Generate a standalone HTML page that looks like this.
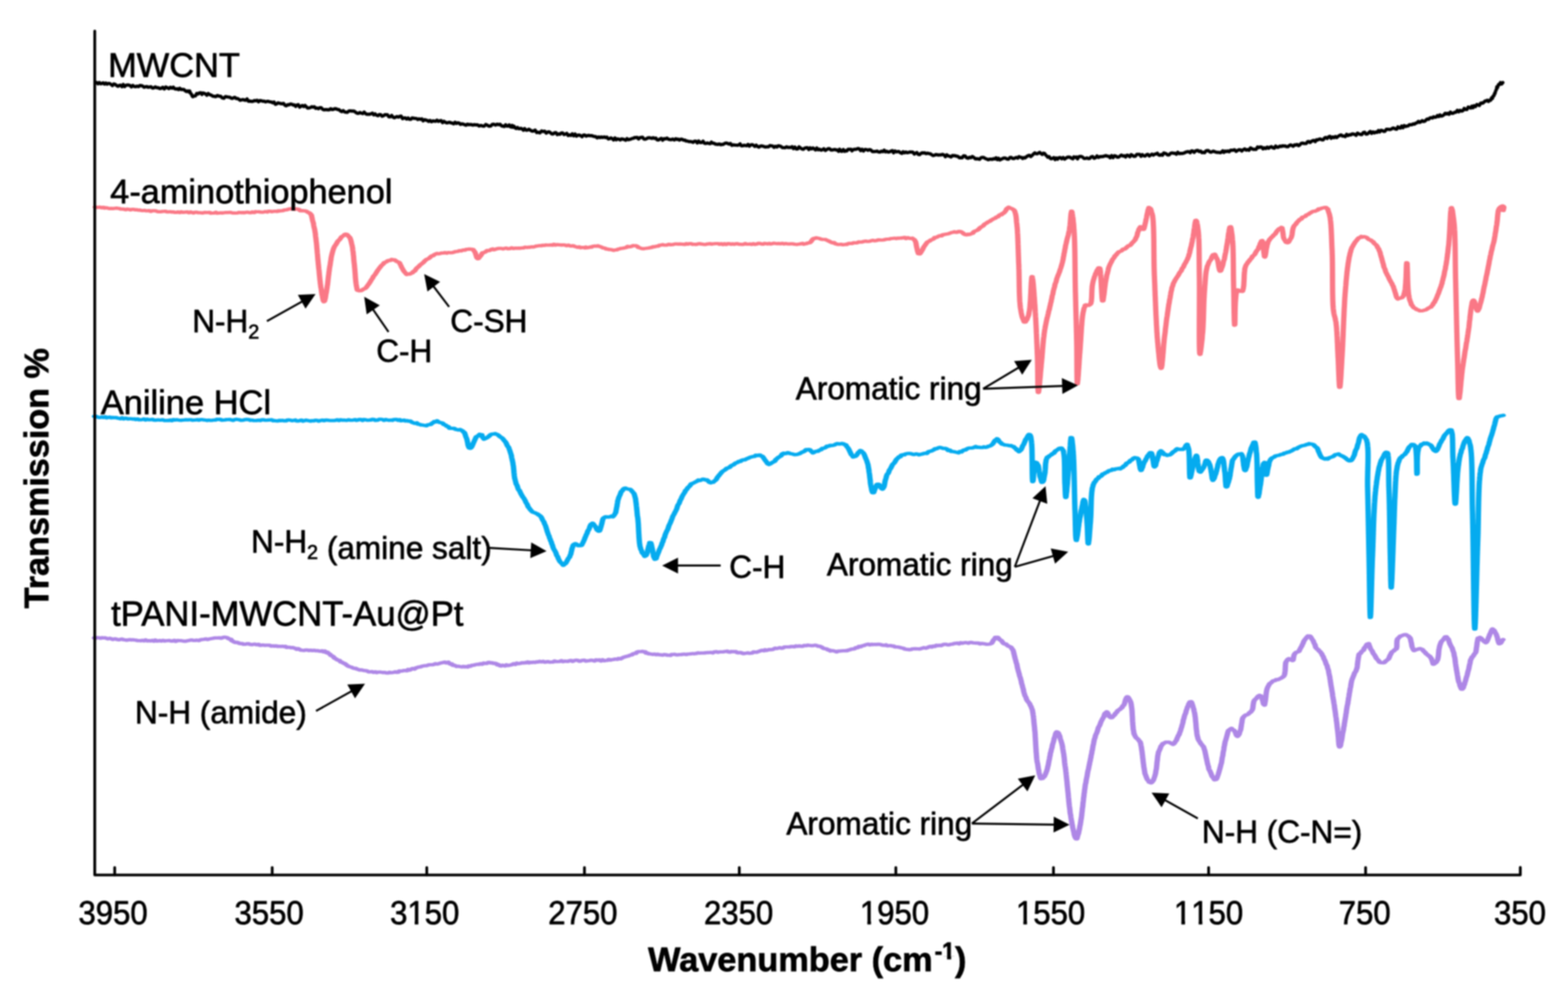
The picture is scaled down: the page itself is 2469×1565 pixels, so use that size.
<!DOCTYPE html>
<html><head><meta charset="utf-8"><title>FTIR spectra</title>
<style>
html,body{margin:0;padding:0;background:#fff;}
body{width:2469px;height:1565px;overflow:hidden;}
svg{display:block;filter:blur(1px);}
text{font-family:"Liberation Sans",Arial,Helvetica,sans-serif;fill:#000;stroke:#000;stroke-width:1px;stroke-linejoin:round;}
</style></head><body>
<svg width="2469" height="1565" viewBox="0 0 2469 1565"><rect width="2469" height="1565" fill="#fff"/><path d="M150.0,130.3 L152.1,129.9 L154.2,131.9 L156.3,129.9 L158.3,131.9 L160.4,131.4 L162.5,130.5 L164.5,132.4 L166.6,130.8 L168.7,132.5 L170.8,131.3 L172.8,131.5 L174.9,133.0 L177.0,134.7 L179.2,132.2 L181.3,132.8 L183.4,134.5 L185.6,135.9 L187.8,134.6 L190.0,134.1 L192.1,136.5 L194.1,133.1 L196.2,136.3 L198.4,134.3 L200.5,133.9 L202.6,133.9 L204.8,134.7 L207.0,136.8 L209.2,134.5 L211.4,136.2 L213.6,136.5 L215.8,135.6 L218.0,136.4 L220.2,134.7 L222.4,134.8 L224.6,135.5 L226.8,137.4 L229.0,136.6 L231.3,136.3 L233.4,137.4 L235.6,137.0 L237.8,136.6 L240.0,138.6 L242.2,138.4 L244.4,136.8 L246.7,138.1 L249.1,138.1 L251.5,139.5 L253.9,139.0 L256.3,137.4 L258.7,140.1 L261.1,137.0 L263.5,138.2 L265.9,139.6 L268.3,137.4 L270.6,138.8 L272.9,137.2 L275.1,139.7 L277.2,140.2 L279.3,139.7 L281.2,141.0 L283.1,139.1 L284.9,140.8 L286.6,140.7 L288.1,141.0 L289.5,140.8 L291.8,143.0 L293.8,144.1 L295.6,143.1 L297.2,144.7 L298.6,143.3 L300.0,146.8 L301.4,148.2 L302.6,151.4 L303.7,152.4 L305.0,151.2 L306.4,151.2 L307.9,151.0 L309.7,147.2 L312.0,147.9 L313.3,146.5 L314.7,146.2 L316.2,146.0 L317.9,148.7 L319.7,146.4 L321.6,147.0 L323.6,147.8 L325.7,149.9 L327.9,147.2 L330.2,149.0 L332.5,149.7 L334.9,151.4 L337.3,151.6 L339.8,152.2 L342.3,150.4 L344.8,151.3 L347.4,151.6 L349.9,154.0 L352.5,154.7 L355.0,152.0 L357.5,152.5 L360.0,153.0 L361.9,153.2 L363.8,154.4 L365.8,155.0 L367.8,154.0 L369.8,153.3 L371.9,155.1 L373.9,155.2 L376.0,156.2 L378.2,157.9 L380.3,157.2 L382.5,156.8 L384.6,157.4 L386.8,157.9 L389.0,155.8 L391.2,159.3 L393.5,159.1 L395.7,159.7 L397.9,159.7 L400.2,158.4 L402.4,158.7 L404.7,157.9 L407.0,160.2 L409.2,158.3 L411.5,158.6 L413.7,159.4 L416.0,159.4 L418.2,160.4 L420.5,159.6 L422.7,159.6 L424.9,160.4 L427.1,160.5 L429.3,161.8 L431.5,160.7 L433.6,164.2 L435.8,163.5 L437.9,161.9 L440.0,162.6 L442.2,163.2 L444.4,163.5 L446.5,162.8 L448.7,165.8 L450.8,166.6 L453.0,164.8 L455.1,165.1 L457.2,163.8 L459.3,164.1 L461.4,165.3 L463.5,165.2 L465.6,167.5 L467.7,165.2 L469.8,164.9 L471.9,168.7 L474.0,167.3 L476.1,166.1 L478.2,167.8 L480.3,166.0 L482.4,168.2 L484.4,170.1 L486.5,169.9 L488.6,169.5 L490.7,168.0 L492.9,168.7 L495.0,168.1 L497.1,170.6 L499.2,170.0 L501.4,171.1 L503.5,169.6 L505.7,169.5 L507.8,171.9 L510.0,172.8 L512.1,172.6 L514.3,172.6 L516.4,172.9 L518.5,172.8 L520.7,171.1 L522.9,172.5 L525.0,172.1 L527.2,171.1 L529.4,171.3 L531.6,172.5 L533.8,172.7 L536.0,174.6 L538.2,175.8 L540.4,174.1 L542.6,176.2 L544.8,176.7 L547.0,176.8 L549.2,174.8 L551.4,174.5 L553.6,174.8 L555.8,174.9 L558.0,175.2 L560.2,177.0 L562.4,178.3 L564.6,178.3 L566.8,177.2 L569.0,178.1 L571.2,178.9 L573.4,176.4 L575.6,178.9 L577.7,180.0 L579.9,179.8 L582.1,179.9 L584.2,179.1 L586.4,178.2 L588.5,180.8 L590.7,179.3 L592.9,181.3 L595.1,182.2 L597.3,180.3 L599.5,180.6 L601.6,182.9 L603.8,182.3 L606.0,180.5 L608.1,180.6 L610.3,180.9 L612.4,184.0 L614.6,183.9 L616.7,181.7 L618.9,184.5 L621.0,185.3 L623.1,184.4 L625.3,183.5 L627.4,184.5 L629.6,183.1 L631.7,182.9 L633.8,186.8 L636.0,185.9 L638.1,185.6 L640.3,187.4 L642.5,185.8 L644.6,187.7 L646.8,187.8 L649.0,185.7 L651.2,186.1 L653.4,186.5 L655.6,186.5 L657.8,188.1 L660.0,187.1 L662.1,187.9 L664.2,187.1 L666.3,190.2 L668.5,188.4 L670.6,189.0 L672.8,189.7 L674.9,191.2 L677.1,189.6 L679.3,191.7 L681.4,190.4 L683.6,190.7 L685.8,190.9 L688.0,189.2 L690.2,191.1 L692.4,190.3 L694.6,189.9 L696.8,193.1 L698.9,191.0 L701.1,192.4 L703.3,193.5 L705.5,193.1 L707.7,192.5 L709.9,193.4 L712.1,193.8 L714.3,194.9 L716.5,192.5 L718.6,194.4 L720.8,193.4 L723.0,193.8 L725.1,195.8 L727.3,195.0 L729.4,195.4 L731.6,196.3 L733.7,197.1 L735.8,195.5 L737.9,196.3 L740.0,196.0 L742.3,196.2 L744.6,197.0 L747.0,196.2 L749.5,196.7 L752.0,196.5 L754.5,198.4 L757.1,197.5 L759.7,198.3 L762.3,198.6 L764.9,196.0 L767.5,197.2 L770.1,198.7 L772.7,198.4 L775.2,195.8 L777.8,195.7 L780.3,197.0 L782.7,195.6 L785.1,196.3 L787.5,195.7 L789.8,198.1 L792.0,198.6 L794.2,199.1 L796.2,196.4 L798.2,198.6 L800.0,198.5 L801.8,196.7 L803.5,199.6 L805.0,200.1 L806.4,197.5 L807.7,200.4 L808.8,198.6 L809.8,199.2 L811.7,201.9 L812.9,202.3 L814.8,200.7 L815.9,202.1 L817.2,202.7 L818.7,202.4 L820.4,202.2 L822.1,203.0 L824.1,204.9 L826.1,202.5 L828.2,204.9 L830.5,204.8 L832.8,203.5 L835.2,205.0 L837.7,206.4 L840.1,206.3 L842.7,204.9 L845.2,208.7 L847.7,208.2 L850.3,209.2 L852.8,206.2 L855.3,207.1 L857.7,206.5 L860.1,209.6 L862.4,207.9 L864.6,207.6 L866.8,208.9 L868.9,211.0 L871.1,210.9 L873.2,209.0 L875.3,208.8 L877.5,211.9 L879.6,210.8 L881.7,211.5 L883.9,209.3 L886.0,209.4 L888.1,211.9 L890.3,211.1 L892.4,210.0 L894.6,213.4 L896.7,212.4 L898.9,213.2 L901.1,210.7 L903.3,213.8 L905.5,211.0 L907.7,214.2 L909.9,212.8 L912.1,212.6 L914.4,213.6 L916.5,215.2 L918.5,212.9 L920.6,212.6 L922.8,214.3 L924.9,213.5 L927.1,213.2 L929.2,213.6 L931.4,213.5 L933.6,214.3 L935.8,215.0 L938.1,215.2 L940.3,217.1 L942.5,215.6 L944.7,216.6 L946.9,215.7 L949.1,216.5 L951.3,215.5 L953.5,216.6 L955.7,215.9 L957.8,218.8 L960.0,218.3 L962.1,217.1 L964.2,218.4 L966.2,220.3 L968.3,217.2 L970.3,220.1 L972.3,218.7 L974.2,219.0 L976.5,220.3 L978.7,218.7 L980.9,219.1 L983.0,219.7 L985.1,220.8 L987.2,218.3 L989.3,220.0 L991.3,219.4 L993.3,219.0 L995.3,218.0 L997.3,217.7 L999.3,216.5 L1001.4,216.6 L1003.4,216.3 L1005.5,218.8 L1007.5,216.8 L1009.7,216.4 L1011.8,216.1 L1014.0,219.0 L1016.1,219.1 L1018.1,218.4 L1020.2,217.0 L1022.2,216.9 L1024.3,217.2 L1026.4,217.9 L1028.5,216.8 L1030.6,218.0 L1032.7,217.4 L1034.8,220.2 L1037.0,220.4 L1039.1,218.9 L1041.3,217.9 L1043.4,220.7 L1045.6,218.4 L1047.9,218.7 L1050.1,217.5 L1052.4,219.1 L1054.6,219.6 L1056.9,219.9 L1059.3,218.9 L1061.6,220.3 L1064.0,218.5 L1065.9,219.6 L1067.9,219.1 L1069.9,220.5 L1072.0,219.2 L1074.0,219.3 L1076.1,220.6 L1078.2,220.5 L1080.4,222.0 L1082.5,222.0 L1084.7,223.0 L1086.9,222.8 L1089.1,223.3 L1091.3,224.1 L1093.5,222.4 L1095.8,222.4 L1098.0,225.1 L1100.2,222.1 L1102.5,224.5 L1104.7,224.4 L1107.0,222.3 L1109.2,225.5 L1111.4,225.9 L1113.6,225.1 L1115.8,225.7 L1118.0,226.2 L1120.2,223.8 L1122.3,225.5 L1124.5,225.6 L1126.6,227.0 L1128.7,227.1 L1130.8,227.3 L1132.8,226.6 L1134.8,227.9 L1136.8,227.3 L1138.7,227.4 L1141.1,225.8 L1143.4,225.2 L1145.7,225.8 L1148.0,226.8 L1150.2,226.0 L1152.4,228.9 L1154.6,228.0 L1156.8,228.4 L1158.9,228.5 L1161.0,228.8 L1163.2,228.2 L1165.3,226.5 L1167.4,229.6 L1169.5,229.5 L1171.6,228.7 L1173.7,229.0 L1175.8,229.5 L1177.9,227.4 L1180.0,230.1 L1182.1,228.3 L1184.2,227.8 L1186.3,228.6 L1188.5,230.5 L1190.7,228.6 L1192.8,230.7 L1195.0,231.7 L1197.2,230.0 L1199.3,229.7 L1201.5,230.2 L1203.7,231.1 L1205.9,231.5 L1208.0,231.0 L1210.2,231.2 L1212.4,229.2 L1214.5,229.5 L1216.7,230.0 L1218.9,232.0 L1221.0,230.4 L1223.2,231.5 L1225.4,229.5 L1227.6,229.8 L1229.7,230.7 L1231.9,232.3 L1234.1,232.5 L1236.2,232.6 L1238.4,231.2 L1240.6,232.2 L1242.8,232.1 L1245.0,232.2 L1247.2,231.0 L1249.4,234.0 L1251.6,231.5 L1253.8,234.6 L1256.0,234.5 L1258.2,231.2 L1260.4,233.0 L1262.6,234.4 L1264.9,235.1 L1267.0,233.3 L1269.2,232.7 L1271.4,232.6 L1273.6,235.5 L1275.7,232.8 L1277.8,234.3 L1280.0,232.8 L1282.1,234.3 L1284.1,236.1 L1286.2,233.1 L1288.2,235.8 L1290.4,234.8 L1292.7,236.4 L1294.9,235.8 L1297.2,234.2 L1299.5,236.9 L1301.7,235.6 L1303.9,234.0 L1306.2,234.1 L1308.3,236.1 L1310.5,236.1 L1312.6,235.7 L1314.6,235.3 L1316.6,236.2 L1318.6,236.2 L1320.4,238.2 L1322.2,235.1 L1324.0,238.0 L1325.6,238.3 L1327.9,235.4 L1330.0,238.3 L1331.8,237.2 L1333.6,237.6 L1335.4,235.1 L1337.5,235.1 L1340.0,235.1 L1341.6,237.4 L1343.3,235.8 L1345.0,235.0 L1346.9,235.2 L1348.9,234.7 L1350.9,233.9 L1353.0,234.2 L1355.2,237.1 L1357.4,235.1 L1359.7,237.7 L1362.0,235.3 L1364.3,235.5 L1366.7,236.6 L1369.0,235.5 L1371.4,236.3 L1373.8,238.7 L1376.2,238.6 L1378.6,238.5 L1380.9,237.9 L1383.3,239.2 L1385.6,239.4 L1387.8,238.1 L1390.0,238.8 L1392.2,236.4 L1394.3,239.1 L1396.4,238.2 L1398.6,239.4 L1400.7,239.1 L1402.8,237.9 L1405.0,237.1 L1407.1,240.6 L1409.2,237.7 L1411.3,239.1 L1413.4,238.7 L1415.6,238.7 L1417.7,240.5 L1419.9,241.5 L1422.0,238.9 L1424.2,240.6 L1426.3,239.3 L1428.5,240.5 L1430.7,240.0 L1432.9,239.3 L1435.2,239.4 L1437.4,239.7 L1439.7,242.5 L1441.7,241.1 L1443.8,240.2 L1445.8,243.0 L1447.9,243.5 L1450.0,241.6 L1452.1,240.6 L1454.1,240.9 L1456.3,240.7 L1458.4,241.9 L1460.5,241.1 L1462.6,241.8 L1464.7,242.1 L1466.9,243.4 L1469.0,244.8 L1471.2,244.5 L1473.4,243.4 L1475.5,243.6 L1477.7,244.2 L1479.9,243.8 L1482.1,243.9 L1484.3,243.0 L1486.5,244.0 L1488.7,246.8 L1490.9,243.8 L1493.1,245.4 L1495.3,246.0 L1497.5,247.1 L1499.8,244.8 L1502.0,245.1 L1504.1,245.2 L1506.3,245.9 L1508.4,246.3 L1510.6,248.4 L1512.9,248.1 L1515.1,248.4 L1517.3,245.3 L1519.6,245.5 L1521.9,248.3 L1524.2,249.2 L1526.5,247.7 L1528.8,248.3 L1531.1,246.3 L1533.4,247.9 L1535.7,250.1 L1538.0,249.9 L1540.2,250.2 L1542.5,250.8 L1544.8,248.2 L1547.1,247.8 L1549.3,248.1 L1551.5,249.6 L1553.7,250.4 L1555.9,251.4 L1558.1,250.7 L1560.2,250.5 L1562.3,251.0 L1564.4,249.9 L1566.4,250.3 L1568.4,248.4 L1570.4,251.3 L1572.3,249.2 L1574.2,251.8 L1576.6,250.7 L1578.9,249.4 L1581.2,248.7 L1583.5,249.1 L1585.8,250.4 L1588.0,250.6 L1590.1,248.2 L1592.3,247.9 L1594.4,249.5 L1596.5,249.6 L1598.5,248.7 L1600.5,247.9 L1602.5,249.1 L1604.5,246.6 L1606.5,247.5 L1608.4,247.9 L1610.3,249.5 L1612.1,248.0 L1614.0,248.7 L1616.3,246.7 L1618.6,245.2 L1620.9,244.5 L1623.1,246.5 L1625.2,244.8 L1627.3,242.5 L1629.4,240.7 L1631.4,241.9 L1633.4,242.1 L1635.3,240.8 L1637.2,240.0 L1639.0,241.6 L1641.1,243.1 L1642.9,241.2 L1644.7,241.5 L1646.4,243.8 L1648.1,245.4 L1649.9,247.5 L1651.9,246.6 L1654.0,249.6 L1655.8,249.8 L1657.6,249.1 L1659.4,248.2 L1661.3,251.2 L1663.3,248.7 L1665.3,250.6 L1667.4,248.3 L1669.5,248.1 L1671.8,250.0 L1674.1,248.1 L1676.4,250.5 L1678.9,248.6 L1681.4,247.4 L1684.0,247.4 L1685.7,248.2 L1687.4,249.1 L1689.2,250.1 L1691.0,247.0 L1692.9,247.9 L1694.8,247.2 L1696.7,250.0 L1698.7,246.8 L1700.8,246.4 L1702.8,246.4 L1704.9,247.6 L1707.1,249.5 L1709.3,249.4 L1711.4,248.7 L1713.7,249.7 L1715.9,249.4 L1718.2,247.0 L1720.4,246.4 L1722.7,249.2 L1725.0,248.4 L1727.3,245.6 L1729.6,247.9 L1732.0,246.7 L1734.3,246.6 L1736.6,246.4 L1738.9,245.7 L1741.3,245.0 L1743.6,245.9 L1745.9,246.1 L1748.1,248.3 L1750.4,245.1 L1752.7,248.2 L1754.9,245.2 L1757.1,245.7 L1759.3,247.4 L1761.5,247.3 L1763.6,245.7 L1765.8,244.2 L1768.0,245.7 L1770.1,245.2 L1772.3,247.2 L1774.5,244.4 L1776.7,244.9 L1779.0,246.8 L1781.2,243.5 L1783.4,244.8 L1785.6,246.2 L1787.8,245.9 L1790.0,243.1 L1792.2,243.0 L1794.4,243.0 L1796.6,246.1 L1798.8,243.5 L1801.0,245.2 L1803.2,245.7 L1805.4,243.5 L1807.5,243.1 L1809.7,245.6 L1811.8,244.2 L1814.0,242.7 L1816.1,244.3 L1818.2,242.7 L1820.3,242.4 L1822.4,241.3 L1824.5,244.0 L1826.5,244.5 L1828.5,243.3 L1830.5,244.4 L1832.5,240.8 L1834.5,241.4 L1836.5,242.2 L1838.4,243.9 L1840.8,243.8 L1843.1,241.5 L1845.5,240.8 L1847.8,241.3 L1850.1,241.3 L1852.4,242.8 L1854.6,239.8 L1856.9,241.9 L1859.1,241.5 L1861.3,241.6 L1863.5,241.2 L1865.6,240.4 L1867.8,239.2 L1869.9,238.9 L1872.0,238.9 L1874.1,240.4 L1876.2,237.5 L1878.2,237.8 L1880.3,239.8 L1882.3,237.8 L1884.3,237.0 L1886.2,236.8 L1888.2,238.7 L1890.4,237.8 L1892.6,240.3 L1894.7,239.9 L1896.8,240.4 L1898.8,237.7 L1900.7,237.1 L1902.7,237.2 L1904.6,238.8 L1906.6,239.7 L1908.6,238.8 L1910.6,238.0 L1912.6,238.8 L1914.8,239.6 L1917.0,239.8 L1919.2,240.0 L1921.6,240.3 L1923.4,239.5 L1925.3,237.4 L1927.2,240.0 L1929.2,237.8 L1931.2,238.6 L1933.3,237.7 L1935.4,238.9 L1937.5,236.7 L1939.7,236.7 L1941.8,236.4 L1944.1,235.9 L1946.3,238.4 L1948.5,237.0 L1950.8,235.8 L1953.0,235.8 L1955.3,237.8 L1957.6,235.7 L1959.9,234.4 L1962.2,236.4 L1964.4,235.5 L1966.7,236.5 L1969.0,232.9 L1971.2,234.1 L1973.5,235.2 L1975.7,235.0 L1977.9,235.1 L1980.1,231.5 L1982.2,232.3 L1984.3,231.4 L1986.4,231.5 L1988.7,234.3 L1990.9,232.7 L1993.1,233.9 L1995.4,231.6 L1997.6,233.4 L1999.8,231.7 L2002.1,230.9 L2004.3,232.7 L2006.5,233.3 L2008.7,230.0 L2010.9,231.8 L2013.0,231.8 L2015.2,230.1 L2017.4,230.6 L2019.5,229.6 L2021.7,229.8 L2023.8,229.8 L2025.9,231.0 L2028.0,231.0 L2030.1,229.1 L2032.2,228.2 L2034.3,229.2 L2036.3,230.3 L2038.4,228.1 L2040.4,228.3 L2042.6,227.5 L2044.7,229.4 L2046.8,228.0 L2048.9,225.7 L2050.9,225.3 L2053.0,225.9 L2055.0,226.0 L2057.0,225.8 L2059.0,223.1 L2061.0,222.8 L2063.0,224.3 L2064.9,222.6 L2066.9,221.6 L2068.9,221.1 L2071.0,223.0 L2073.0,220.0 L2075.0,220.4 L2077.1,219.1 L2079.2,218.9 L2081.3,220.1 L2083.5,220.2 L2085.5,217.4 L2087.6,216.4 L2089.7,218.1 L2091.8,215.7 L2094.0,214.7 L2096.1,217.7 L2098.3,215.6 L2100.5,216.8 L2102.7,215.0 L2104.9,216.5 L2107.1,214.6 L2109.4,213.2 L2111.6,212.4 L2113.8,214.1 L2116.0,214.2 L2118.2,215.0 L2120.4,211.6 L2122.6,213.4 L2124.8,212.2 L2127.0,212.4 L2129.1,210.8 L2131.3,211.1 L2133.4,211.7 L2135.4,213.0 L2137.5,209.6 L2139.8,210.8 L2142.0,211.7 L2144.3,212.0 L2146.6,208.8 L2148.8,208.2 L2151.0,211.1 L2153.2,210.9 L2155.4,208.8 L2157.6,206.9 L2159.8,209.9 L2162.0,207.6 L2164.1,209.3 L2166.2,207.9 L2168.4,208.4 L2170.5,205.6 L2172.5,207.7 L2174.6,205.2 L2176.7,205.6 L2178.7,206.9 L2180.7,206.6 L2182.9,203.7 L2185.0,203.5 L2187.1,203.8 L2189.2,203.9 L2191.2,203.0 L2193.2,201.7 L2195.2,201.8 L2197.2,203.2 L2199.2,203.4 L2201.2,199.8 L2203.2,201.3 L2205.1,201.7 L2207.1,198.5 L2209.1,201.1 L2211.1,197.8 L2213.1,199.2 L2215.1,198.5 L2217.2,198.2 L2219.2,196.4 L2221.2,196.3 L2223.3,196.3 L2225.3,195.1 L2227.3,195.4 L2229.3,193.9 L2231.3,193.3 L2233.4,191.1 L2235.4,192.7 L2237.4,191.6 L2239.4,190.0 L2241.5,191.3 L2243.5,190.8 L2245.5,188.9 L2247.5,187.3 L2249.5,187.8 L2251.5,185.8 L2253.5,185.3 L2255.5,185.8 L2257.4,183.9 L2259.4,184.7 L2261.4,184.3 L2263.4,181.9 L2265.4,183.6 L2267.4,180.9 L2269.5,182.8 L2271.5,182.3 L2273.6,180.7 L2275.7,178.3 L2277.9,179.4 L2279.8,178.4 L2281.8,180.0 L2283.9,176.4 L2286.0,178.5 L2288.1,178.5 L2290.3,176.9 L2292.5,176.7 L2294.7,173.7 L2296.9,176.1 L2299.1,173.7 L2301.3,174.9 L2303.5,174.2 L2305.6,170.7 L2307.7,172.5 L2309.8,172.5 L2311.8,168.6 L2313.8,169.2 L2315.7,170.1 L2317.6,167.3 L2319.3,169.6 L2321.0,166.6 L2323.3,167.9 L2325.4,164.6 L2327.5,165.2 L2329.5,166.1 L2331.4,162.6 L2333.3,162.1 L2335.0,162.3 L2336.8,160.8 L2338.4,159.0 L2340.0,158.8 L2342.0,157.8 L2343.8,159.8 L2345.6,157.9 L2347.2,157.8 L2348.7,153.9 L2350.0,155.1 L2351.1,151.1 L2352.0,151.1 L2352.7,149.9 L2353.3,147.1 L2354.0,147.4 L2354.8,144.2 L2355.5,142.2 L2356.2,141.4 L2357.0,136.5 L2357.9,138.2 L2358.8,135.2 L2359.8,132.8 L2361.0,133.1 L2362.7,130.1 L2364.5,132.2 L2366.4,130.0" fill="none" stroke="#000" stroke-width="5.2" stroke-linejoin="round" stroke-linecap="round"/><g transform="scale(1.6,1)" fill="none" stroke-linejoin="round" stroke-linecap="round"><path d="M93.75,325.9 L95.31,326.7 L96.87,326.4 L98.44,326.1 L100.01,327.2 L101.58,326.3 L103.15,327.7 L104.73,327.0 L106.31,327.8 L107.88,328.5 L109.46,328.1 L111.04,328.4 L112.63,328.0 L114.21,327.7 L115.79,327.9 L117.37,328.3 L118.95,329.2 L120.52,329.1 L122.10,329.4 L123.67,330.2 L125.24,329.2 L126.81,329.5 L128.38,330.4 L129.94,329.6 L131.50,329.7 L133.06,330.4 L134.61,330.2 L136.15,330.8 L137.70,330.7 L139.23,331.5 L140.76,331.6 L142.29,331.2 L143.81,332.0 L145.32,331.9 L146.82,331.5 L148.32,332.9 L149.81,331.9 L151.44,331.9 L153.06,331.9 L154.67,332.9 L156.28,333.4 L157.89,333.4 L159.49,332.9 L161.08,332.8 L162.68,332.5 L164.26,333.6 L165.84,333.6 L167.42,333.3 L168.99,333.9 L170.56,333.6 L172.13,334.5 L173.68,334.3 L175.24,333.6 L176.79,334.7 L178.33,333.4 L179.87,334.3 L181.41,334.1 L182.94,333.9 L184.46,333.7 L185.98,334.9 L187.50,333.7 L189.01,334.7 L190.52,335.3 L192.02,334.1 L193.52,334.2 L195.01,334.9 L196.50,334.8 L198.12,335.1 L199.73,335.4 L201.33,334.4 L202.93,334.6 L204.51,334.7 L206.08,334.3 L207.65,335.7 L209.21,335.5 L210.77,335.4 L212.31,334.3 L213.86,335.7 L215.40,335.5 L216.94,335.1 L218.48,335.5 L220.01,335.0 L221.54,334.7 L223.08,334.5 L224.61,334.6 L226.15,334.3 L227.69,334.8 L229.23,335.4 L230.77,335.3 L232.32,335.5 L233.88,335.2 L235.44,334.4 L236.97,334.8 L238.53,334.6 L240.11,335.1 L241.72,334.6 L243.34,334.1 L244.98,334.6 L246.63,335.0 L248.28,333.7 L249.94,334.7 L251.60,333.2 L253.25,333.5 L254.89,333.3 L256.53,334.0 L258.14,334.2 L259.74,333.8 L261.31,333.0 L262.86,333.8 L264.38,332.7 L265.86,332.5 L267.31,333.4 L268.72,332.8 L270.08,332.7 L271.39,332.5 L272.65,332.9 L273.86,331.9 L275.00,332.3 L276.80,331.8 L278.48,331.6 L280.05,330.5 L281.53,330.5 L282.94,329.9 L284.30,329.1 L285.62,328.6 L286.94,329.1 L288.25,328.2 L289.84,329.7 L291.36,328.9 L292.83,329.2 L294.27,329.9 L295.70,331.9 L297.12,331.6 L298.58,331.8 L300.09,332.0 L301.59,332.6 L303.00,334.2 L304.25,335.0 L305.25,336.2 L305.98,337.8 L306.46,338.4 L306.79,341.2 L307.09,342.9 L307.44,345.9 L307.76,347.8 L308.07,349.9 L308.38,350.7 L308.68,354.2 L308.98,356.7 L309.28,359.2 L309.56,360.3 L309.84,363.1 L310.11,365.6 L310.37,368.3 L310.56,371.7 L310.74,373.8 L310.91,375.8 L311.08,378.4 L311.24,380.5 L311.40,382.4 L311.55,384.6 L311.70,387.2 L311.84,390.8 L311.99,392.6 L312.13,395.4 L312.27,398.2 L312.42,400.1 L312.56,403.1 L312.70,405.8 L312.85,409.0 L313.00,411.0 L313.15,413.4 L313.31,416.8 L313.48,418.6 L313.64,421.8 L313.80,424.0 L313.97,425.6 L314.13,428.8 L314.29,431.5 L314.45,434.6 L314.61,436.5 L314.78,439.6 L314.94,441.8 L315.11,443.8 L315.29,447.2 L315.47,448.3 L315.66,451.7 L315.85,452.8 L316.04,454.6 L316.25,456.9 L316.55,460.6 L316.87,464.0 L317.20,465.4 L317.53,468.9 L317.87,471.4 L318.21,473.8 L318.55,474.1 L318.88,475.1 L319.20,474.4 L319.53,473.8 L319.86,470.9 L320.18,469.6 L320.51,465.7 L320.83,462.6 L321.14,460.5 L321.44,457.4 L321.65,454.8 L321.86,453.5 L322.06,450.4 L322.25,449.2 L322.43,446.7 L322.61,444.4 L322.79,441.7 L322.97,438.8 L323.16,436.3 L323.34,433.8 L323.53,432.1 L323.73,428.4 L323.93,427.3 L324.15,423.5 L324.38,421.5 L324.63,419.0 L324.88,417.4 L325.13,414.2 L325.37,411.4 L325.62,409.6 L325.88,406.0 L326.16,403.9 L326.47,401.5 L326.81,399.5 L327.18,397.2 L327.60,394.9 L328.06,392.4 L328.67,390.0 L329.32,387.6 L330.02,386.6 L330.76,384.4 L331.54,382.6 L332.34,379.9 L333.16,378.7 L334.00,377.6 L335.00,375.5 L336.07,373.0 L337.17,371.8 L338.26,371.0 L339.30,369.0 L340.25,368.5 L341.46,369.1 L342.57,371.0 L343.56,373.0 L344.22,373.6 L344.78,375.7 L345.27,378.2 L345.70,380.9 L346.11,383.9 L346.50,386.2 L346.76,388.5 L347.00,390.4 L347.21,394.0 L347.40,395.9 L347.58,397.4 L347.74,401.3 L347.90,402.5 L348.05,405.5 L348.20,409.1 L348.36,411.4 L348.52,413.9 L348.69,416.0 L348.84,417.9 L348.98,421.1 L349.12,422.8 L349.26,425.6 L349.39,428.6 L349.52,430.7 L349.65,434.0 L349.79,437.3 L349.93,439.7 L350.07,441.8 L350.22,444.3 L350.39,446.2 L350.56,447.7 L350.74,450.2 L350.94,451.3 L351.28,454.5 L351.66,456.8 L352.37,457.3 L353.57,457.8 L355.14,457.7 L356.81,456.2 L358.31,454.7 L359.26,454.3 L360.13,453.2 L360.95,451.5 L361.76,449.6 L362.58,448.0 L363.44,445.9 L364.22,444.1 L365.01,441.9 L365.82,439.8 L366.63,438.2 L367.45,435.3 L368.28,433.7 L369.12,432.2 L369.96,430.1 L370.81,428.1 L371.70,425.6 L372.58,423.9 L373.47,422.0 L374.37,420.3 L375.28,418.2 L376.22,416.9 L377.18,415.8 L378.19,413.3 L379.35,412.8 L380.57,411.9 L381.82,410.3 L383.09,409.8 L384.34,410.1 L385.56,408.4 L386.95,409.3 L388.35,409.1 L389.73,410.8 L391.03,412.1 L392.19,412.6 L393.10,413.5 L393.89,416.2 L394.59,418.3 L395.25,420.8 L395.92,422.6 L396.62,424.6 L397.51,427.1 L398.38,428.7 L399.29,430.3 L400.31,432.2 L401.70,431.3 L403.21,431.6 L404.75,430.1 L405.82,429.7 L406.91,427.3 L408.01,427.0 L409.13,424.2 L410.25,421.9 L411.38,420.5 L412.41,419.2 L413.46,417.0 L414.52,416.1 L415.59,414.5 L416.65,413.4 L417.71,411.3 L418.75,409.8 L420.02,408.2 L421.28,407.5 L422.53,406.4 L423.77,404.4 L425.00,402.8 L426.22,402.6 L427.38,401.0 L428.63,399.9 L430.12,399.0 L431.20,399.7 L432.40,399.4 L433.69,398.8 L435.06,398.3 L436.50,398.3 L437.99,397.6 L439.52,398.6 L441.07,397.5 L442.62,397.8 L444.17,397.8 L445.69,397.6 L447.18,396.7 L448.77,396.0 L450.43,395.8 L452.14,394.6 L453.87,395.1 L455.59,393.7 L457.29,393.9 L458.94,392.6 L460.52,392.4 L461.99,392.1 L463.34,392.4 L464.54,392.4 L465.56,392.7 L466.61,395.3 L467.41,396.8 L468.03,399.4 L468.54,402.1 L469.02,404.7 L469.55,406.4 L470.19,407.4 L471.04,406.9 L471.90,404.7 L472.79,403.3 L473.77,400.9 L474.87,397.8 L475.94,397.9 L477.05,397.1 L478.24,396.0 L479.54,394.3 L481.01,394.7 L482.69,393.7 L483.75,392.4 L484.90,392.0 L486.15,393.3 L487.47,392.5 L488.87,391.7 L490.33,391.2 L491.86,391.1 L493.43,391.1 L495.05,391.8 L496.71,391.0 L498.40,390.6 L500.11,391.7 L501.84,391.4 L503.57,390.2 L505.31,391.3 L507.05,390.7 L508.77,390.9 L510.47,390.6 L512.14,390.8 L513.78,390.4 L515.38,390.3 L516.92,389.1 L518.47,389.7 L520.03,389.2 L521.60,389.3 L523.17,388.5 L524.75,389.0 L526.33,388.2 L527.92,387.4 L529.50,387.1 L531.08,386.7 L532.67,387.0 L534.24,386.0 L535.82,386.4 L537.39,385.7 L538.95,386.0 L540.51,385.8 L542.06,385.7 L543.60,386.1 L545.12,384.6 L546.64,385.9 L548.14,385.2 L549.62,385.4 L551.19,385.6 L552.77,386.0 L554.37,385.5 L555.98,385.8 L557.60,386.9 L559.21,385.8 L560.82,387.1 L562.42,387.4 L564.00,386.8 L565.56,388.1 L567.09,388.6 L568.58,389.3 L570.04,388.7 L571.46,390.0 L572.82,389.5 L574.14,389.6 L575.39,390.4 L576.57,389.1 L577.69,390.1 L579.26,389.8 L580.65,388.9 L581.91,389.2 L583.12,387.9 L584.32,387.6 L585.59,387.4 L587.00,387.7 L588.26,387.0 L589.56,387.8 L590.89,388.4 L592.26,389.3 L593.66,390.5 L595.08,390.5 L596.54,392.1 L598.01,392.1 L599.51,392.9 L601.03,392.9 L602.56,393.5 L603.93,394.2 L605.37,393.5 L606.86,393.4 L608.40,392.2 L609.96,391.7 L611.55,391.0 L613.13,390.8 L614.71,390.2 L616.27,389.8 L617.79,388.0 L619.26,388.6 L620.66,388.4 L621.99,387.5 L623.24,386.6 L624.38,387.0 L625.86,386.9 L627.12,387.8 L628.26,389.8 L629.41,390.1 L630.68,390.9 L632.19,391.5 L633.29,391.7 L634.48,391.2 L635.74,391.0 L637.06,390.7 L638.44,390.5 L639.87,389.9 L641.35,389.6 L642.86,388.4 L644.41,388.6 L645.98,387.7 L647.57,387.7 L649.18,386.1 L650.78,385.8 L652.39,385.2 L653.98,386.0 L655.56,386.0 L657.01,385.4 L658.47,384.7 L659.95,385.3 L661.44,385.2 L662.94,384.7 L664.45,384.1 L665.98,384.2 L667.51,384.3 L669.06,384.1 L670.62,384.3 L672.19,384.6 L673.77,385.0 L675.35,383.6 L676.95,384.5 L678.55,383.6 L680.17,383.7 L681.79,384.8 L683.41,384.5 L685.05,385.0 L686.69,384.2 L688.16,383.5 L689.65,384.1 L691.16,384.4 L692.67,384.9 L694.20,385.0 L695.73,384.2 L697.27,384.1 L698.83,383.6 L700.38,384.5 L701.95,383.8 L703.52,383.7 L705.09,383.5 L706.67,383.5 L708.26,384.6 L709.84,383.7 L711.43,385.1 L713.01,383.7 L714.60,384.9 L716.18,383.7 L717.77,383.6 L719.35,384.7 L720.92,383.9 L722.50,384.7 L724.06,383.8 L725.62,383.6 L727.19,384.7 L728.75,384.6 L730.33,384.8 L731.90,384.6 L733.48,383.5 L735.07,384.4 L736.65,384.5 L738.24,384.1 L739.82,384.8 L741.41,383.7 L742.99,384.8 L744.58,384.3 L746.16,383.2 L747.73,383.2 L749.30,384.1 L750.87,384.4 L752.43,383.2 L753.98,383.5 L755.52,384.1 L757.05,383.2 L758.58,384.2 L760.09,383.6 L761.60,382.9 L763.09,383.3 L764.56,383.6 L766.23,383.4 L767.93,383.8 L769.66,383.0 L771.41,384.1 L773.17,383.4 L774.94,384.0 L776.70,384.1 L778.46,383.8 L780.19,383.8 L781.90,384.5 L783.57,384.8 L785.19,384.6 L786.77,384.2 L788.29,383.7 L789.74,383.2 L791.11,384.5 L792.40,383.8 L793.60,383.7 L794.70,382.5 L795.69,382.5 L797.06,382.0 L798.14,380.3 L799.04,378.4 L799.90,376.5 L800.82,375.4 L801.94,375.4 L803.25,374.4 L804.66,375.0 L806.15,375.3 L807.70,376.4 L809.28,377.0 L810.89,377.0 L812.50,377.2 L813.81,378.2 L815.14,379.2 L816.48,380.2 L817.83,381.4 L819.21,382.3 L820.61,381.8 L822.03,383.8 L823.49,384.4 L824.97,385.0 L826.50,384.8 L827.80,384.5 L829.11,385.4 L830.42,385.2 L831.75,384.9 L833.09,385.0 L834.46,383.8 L835.85,383.0 L837.27,383.4 L838.73,383.3 L840.24,382.0 L841.78,382.4 L843.38,382.3 L845.04,380.9 L846.75,381.2 L848.03,381.1 L849.39,380.5 L850.83,379.9 L852.35,379.7 L853.92,380.2 L855.55,380.0 L857.23,379.2 L858.95,378.3 L860.71,379.1 L862.50,378.7 L864.30,377.6 L866.13,377.8 L867.96,378.0 L869.79,377.7 L871.61,376.8 L873.42,376.5 L875.21,376.4 L876.97,375.5 L878.70,375.3 L880.38,375.0 L882.02,375.6 L883.61,374.9 L885.13,375.1 L886.58,374.7 L887.95,374.8 L889.24,374.1 L890.44,373.9 L891.55,375.5 L892.55,374.5 L893.44,374.2 L895.11,375.2 L896.49,375.6 L897.65,374.9 L898.69,376.2 L899.69,377.0 L900.38,378.7 L900.96,380.2 L901.46,382.9 L901.89,387.4 L902.27,390.2 L902.64,392.6 L903.01,395.4 L903.40,397.2 L903.85,399.5 L904.38,399.6 L905.22,399.8 L906.10,397.7 L907.03,395.3 L907.99,392.8 L909.00,389.3 L909.77,387.4 L910.49,386.0 L911.23,384.3 L912.02,382.5 L912.92,380.8 L913.98,380.1 L915.25,379.1 L916.23,377.5 L917.36,377.3 L918.62,376.3 L920.00,373.9 L921.47,373.8 L923.02,372.5 L924.64,371.1 L926.31,371.5 L928.01,369.5 L929.73,369.1 L931.45,368.5 L933.15,368.2 L934.82,367.1 L936.45,366.1 L938.01,365.7 L939.50,364.8 L940.89,365.8 L942.16,365.7 L943.31,364.4 L944.88,364.3 L946.26,365.4 L947.52,366.6 L948.72,368.5 L949.93,369.4 L951.21,369.8 L952.62,368.6 L953.71,369.4 L954.84,368.7 L956.02,367.8 L957.24,367.3 L958.48,364.7 L959.76,363.6 L961.05,363.1 L962.35,362.0 L963.66,360.0 L964.97,357.9 L966.28,356.8 L967.57,355.6 L968.85,353.1 L970.09,352.1 L971.31,350.7 L972.62,349.2 L973.96,348.5 L975.33,346.8 L976.69,345.6 L978.06,344.2 L979.41,343.8 L980.74,341.5 L982.03,341.4 L983.26,339.3 L984.44,337.9 L985.55,338.2 L986.57,335.9 L987.50,335.9 L988.78,333.8 L989.84,331.7 L990.78,328.5 L991.72,327.5 L992.75,326.2 L994.09,327.6 L995.52,328.3 L996.87,329.4 L998.00,330.9 L998.58,332.2 L999.03,334.8 L999.39,336.2 L999.66,338.7 L999.88,340.3 L1000.07,343.0 L1000.24,345.5 L1000.42,349.4 L1000.62,352.1 L1000.76,353.2 L1000.88,356.3 L1001.00,357.3 L1001.10,359.6 L1001.20,361.3 L1001.29,363.7 L1001.38,366.9 L1001.46,368.4 L1001.54,370.5 L1001.61,373.5 L1001.68,375.7 L1001.74,379.1 L1001.80,380.4 L1001.86,384.4 L1001.92,385.5 L1001.97,389.4 L1002.02,391.7 L1002.08,393.6 L1002.13,396.7 L1002.19,399.0 L1002.24,401.6 L1002.30,404.1 L1002.36,407.0 L1002.43,410.6 L1002.49,413.2 L1002.56,415.6 L1002.63,416.6 L1002.68,419.4 L1002.73,422.9 L1002.78,424.1 L1002.82,427.7 L1002.85,429.7 L1002.88,433.4 L1002.91,434.6 L1002.94,438.5 L1002.97,440.5 L1002.99,442.9 L1003.02,445.4 L1003.05,449.4 L1003.08,451.7 L1003.11,453.8 L1003.15,456.9 L1003.19,460.2 L1003.24,461.7 L1003.30,464.8 L1003.36,466.7 L1003.43,469.2 L1003.51,472.5 L1003.60,474.7 L1003.70,476.2 L1003.81,478.2 L1003.93,480.3 L1004.07,483.1 L1004.22,484.8 L1004.38,486.2 L1004.56,487.8 L1004.95,491.7 L1005.39,495.2 L1005.86,498.5 L1006.36,501.0 L1006.88,502.9 L1007.41,504.7 L1007.96,507.1 L1008.50,507.1 L1009.14,507.1 L1009.83,504.6 L1010.53,503.7 L1011.22,500.3 L1011.86,498.2 L1012.44,495.2 L1012.70,492.9 L1012.93,490.1 L1013.15,489.2 L1013.35,486.0 L1013.54,483.8 L1013.71,479.9 L1013.86,476.7 L1014.00,474.5 L1014.14,470.5 L1014.26,466.8 L1014.37,463.8 L1014.48,460.8 L1014.58,456.6 L1014.67,454.3 L1014.76,451.2 L1014.85,448.4 L1014.95,445.2 L1015.04,443.7 L1015.13,441.7 L1015.23,440.0 L1015.33,437.6 L1015.44,437.2 L1015.56,435.9 L1015.69,436.3 L1015.85,435.5 L1016.01,437.5 L1016.17,438.8 L1016.33,439.7 L1016.49,441.7 L1016.65,444.0 L1016.81,446.5 L1016.97,448.5 L1017.13,453.0 L1017.28,454.9 L1017.44,458.1 L1017.59,461.2 L1017.74,464.8 L1017.89,469.0 L1018.03,470.9 L1018.17,474.2 L1018.31,478.1 L1018.41,479.4 L1018.50,481.2 L1018.60,484.4 L1018.69,486.6 L1018.78,488.8 L1018.87,491.4 L1018.96,492.8 L1019.05,496.5 L1019.14,498.7 L1019.23,500.1 L1019.31,502.8 L1019.40,505.9 L1019.48,508.5 L1019.56,510.8 L1019.65,513.1 L1019.73,516.2 L1019.81,518.4 L1019.88,521.8 L1019.96,524.9 L1020.04,526.4 L1020.11,529.7 L1020.18,532.6 L1020.25,534.3 L1020.32,537.9 L1020.39,540.7 L1020.46,542.3 L1020.52,544.9 L1020.59,548.1 L1020.65,550.0 L1020.71,552.3 L1020.77,555.5 L1020.83,557.6 L1020.88,559.2 L1020.94,561.3 L1021.00,564.2 L1021.05,567.2 L1021.09,571.1 L1021.13,574.0 L1021.17,577.3 L1021.20,580.4 L1021.22,583.7 L1021.24,585.6 L1021.27,589.6 L1021.29,593.4 L1021.31,596.5 L1021.33,598.3 L1021.35,601.5 L1021.38,604.5 L1021.41,606.6 L1021.44,609.1 L1021.48,610.5 L1021.52,612.9 L1021.58,614.6 L1021.64,615.0 L1021.71,616.1 L1021.79,618.0 L1021.88,617.9 L1021.98,618.0 L1022.10,616.8 L1022.23,616.0 L1022.37,614.6 L1022.52,612.8 L1022.67,609.3 L1022.83,607.9 L1022.99,604.6 L1023.16,602.5 L1023.33,598.9 L1023.51,596.2 L1023.68,593.7 L1023.86,590.0 L1024.03,586.3 L1024.21,583.6 L1024.38,580.4 L1024.55,578.3 L1024.71,574.4 L1024.88,571.9 L1025.02,570.1 L1025.16,566.9 L1025.29,565.3 L1025.42,563.5 L1025.55,560.4 L1025.68,557.6 L1025.80,555.4 L1025.92,553.1 L1026.05,550.0 L1026.18,547.5 L1026.31,545.1 L1026.44,542.9 L1026.57,540.6 L1026.71,538.0 L1026.86,535.5 L1027.01,532.9 L1027.18,531.3 L1027.35,529.4 L1027.52,526.7 L1027.71,524.4 L1027.91,522.2 L1028.12,519.3 L1028.39,517.6 L1028.67,514.7 L1028.97,512.4 L1029.27,510.0 L1029.59,507.4 L1029.92,504.8 L1030.26,502.3 L1030.60,500.0 L1030.95,498.1 L1031.30,495.6 L1031.65,493.6 L1032.00,490.4 L1032.35,488.7 L1032.70,487.2 L1033.04,483.9 L1033.38,482.1 L1033.72,479.6 L1034.05,476.8 L1034.39,475.5 L1034.72,472.0 L1035.05,470.4 L1035.38,467.0 L1035.72,464.5 L1036.06,463.4 L1036.40,460.3 L1036.75,457.3 L1037.10,455.5 L1037.47,453.2 L1037.84,451.4 L1038.23,448.1 L1038.62,446.0 L1039.05,444.8 L1039.51,442.2 L1039.98,439.0 L1040.46,437.0 L1040.96,434.8 L1041.47,433.0 L1041.97,430.7 L1042.48,428.9 L1042.97,426.6 L1043.46,423.9 L1043.92,422.0 L1044.37,419.8 L1044.79,417.6 L1045.19,414.9 L1045.57,412.9 L1045.93,410.4 L1046.27,408.2 L1046.58,404.4 L1046.88,403.1 L1047.17,399.2 L1047.45,398.0 L1047.72,395.2 L1047.99,392.6 L1048.27,391.0 L1048.54,388.0 L1048.83,385.5 L1049.12,383.9 L1049.49,381.5 L1049.87,378.7 L1050.25,376.0 L1050.64,373.9 L1051.01,371.7 L1051.38,369.9 L1051.73,366.9 L1052.07,364.7 L1052.37,362.5 L1052.62,359.8 L1052.84,356.9 L1053.05,354.5 L1053.24,351.4 L1053.42,347.6 L1053.60,344.3 L1053.76,340.9 L1053.93,338.4 L1054.09,335.9 L1054.26,334.8 L1054.44,333.6 L1054.62,332.4 L1054.82,334.1 L1055.03,334.1 L1055.24,336.5 L1055.45,338.4 L1055.67,341.0 L1055.88,342.6 L1056.09,345.9 L1056.29,349.9 L1056.49,351.7 L1056.67,355.1 L1056.84,359.3 L1057.00,362.4 L1057.08,364.9 L1057.16,366.5 L1057.23,368.1 L1057.30,370.9 L1057.36,372.2 L1057.42,374.4 L1057.47,376.9 L1057.52,378.7 L1057.57,380.9 L1057.61,383.7 L1057.65,385.7 L1057.69,389.1 L1057.72,391.2 L1057.76,393.5 L1057.79,395.4 L1057.81,398.4 L1057.84,401.1 L1057.86,404.0 L1057.89,406.7 L1057.91,409.9 L1057.93,412.7 L1057.95,414.7 L1057.97,417.3 L1057.98,420.3 L1058.00,423.6 L1058.02,425.3 L1058.04,428.3 L1058.06,431.5 L1058.08,433.1 L1058.10,436.1 L1058.12,439.8 L1058.14,442.2 L1058.16,444.3 L1058.19,446.2 L1058.22,450.0 L1058.25,452.2 L1058.28,454.9 L1058.31,457.6 L1058.35,460.0 L1058.39,461.8 L1058.43,463.9 L1058.47,466.6 L1058.51,469.5 L1058.55,472.1 L1058.59,474.1 L1058.63,476.7 L1058.67,479.9 L1058.71,482.4 L1058.75,484.5 L1058.80,488.1 L1058.84,490.0 L1058.88,491.6 L1058.92,494.7 L1058.96,497.8 L1059.00,499.6 L1059.04,502.7 L1059.09,504.1 L1059.13,507.0 L1059.17,510.3 L1059.21,512.4 L1059.24,515.0 L1059.28,516.7 L1059.32,519.6 L1059.36,522.1 L1059.39,524.0 L1059.43,527.0 L1059.47,529.2 L1059.50,532.3 L1059.53,534.0 L1059.56,536.0 L1059.60,537.9 L1059.62,540.3 L1059.66,543.9 L1059.68,545.6 L1059.70,548.5 L1059.72,551.7 L1059.74,555.3 L1059.75,559.0 L1059.77,561.8 L1059.78,565.4 L1059.78,567.4 L1059.79,570.5 L1059.80,574.9 L1059.81,577.2 L1059.82,580.9 L1059.83,583.2 L1059.84,585.7 L1059.86,588.5 L1059.88,590.8 L1059.90,594.4 L1059.93,596.0 L1059.96,597.5 L1059.99,599.4 L1060.03,600.7 L1060.07,601.3 L1060.13,603.4 L1060.18,603.5 L1060.25,604.2 L1060.33,603.2 L1060.42,602.8 L1060.52,601.2 L1060.62,599.4 L1060.73,599.1 L1060.84,596.9 L1060.96,593.7 L1061.09,592.0 L1061.22,589.1 L1061.35,585.4 L1061.48,582.7 L1061.62,580.1 L1061.76,576.1 L1061.90,573.5 L1062.04,569.1 L1062.18,566.0 L1062.32,563.3 L1062.46,559.3 L1062.60,556.5 L1062.74,554.5 L1062.87,551.2 L1063.00,549.3 L1063.11,545.9 L1063.22,543.3 L1063.33,541.0 L1063.44,538.0 L1063.55,536.6 L1063.66,532.7 L1063.76,530.4 L1063.87,526.9 L1063.98,524.8 L1064.09,521.8 L1064.20,519.1 L1064.31,515.9 L1064.43,513.3 L1064.56,511.8 L1064.69,508.5 L1064.82,505.8 L1064.96,503.4 L1065.11,501.2 L1065.27,499.0 L1065.43,496.6 L1065.61,495.6 L1065.79,493.3 L1065.98,491.3 L1066.19,490.7 L1066.62,486.9 L1067.04,484.6 L1067.51,483.3 L1068.08,480.5 L1068.81,479.8 L1070.06,480.3 L1071.50,480.8 L1072.75,479.4 L1073.21,478.7 L1073.57,477.8 L1073.85,475.4 L1074.06,474.2 L1074.22,470.5 L1074.34,469.0 L1074.42,465.5 L1074.49,462.1 L1074.56,459.5 L1074.64,456.0 L1074.74,454.1 L1074.87,450.7 L1075.06,449.2 L1075.31,446.5 L1075.72,443.5 L1076.17,440.6 L1076.65,438.6 L1077.15,435.4 L1077.67,434.1 L1078.20,430.7 L1078.73,429.3 L1079.25,427.6 L1079.91,424.9 L1080.60,423.6 L1081.27,421.5 L1081.88,421.5 L1082.13,421.7 L1082.37,422.3 L1082.59,423.9 L1082.78,425.4 L1082.97,427.9 L1083.13,431.7 L1083.29,433.8 L1083.43,437.5 L1083.56,440.0 L1083.69,444.2 L1083.81,447.5 L1083.92,451.2 L1084.03,454.4 L1084.14,457.3 L1084.25,460.9 L1084.37,463.7 L1084.48,466.2 L1084.61,469.4 L1084.74,470.6 L1084.88,472.2 L1085.03,473.9 L1085.19,474.0 L1085.40,473.9 L1085.61,472.9 L1085.82,470.2 L1086.03,468.4 L1086.25,465.6 L1086.46,463.9 L1086.68,460.9 L1086.91,457.3 L1087.14,454.2 L1087.38,451.4 L1087.63,448.4 L1087.89,444.7 L1088.16,443.0 L1088.44,439.9 L1088.77,437.8 L1089.09,434.6 L1089.41,432.1 L1089.74,431.0 L1090.09,428.4 L1090.46,426.1 L1090.87,422.8 L1091.31,420.6 L1091.81,418.6 L1092.38,416.5 L1093.06,414.3 L1093.84,412.1 L1094.68,409.1 L1095.57,407.2 L1096.49,405.4 L1097.41,402.5 L1098.31,401.7 L1099.18,399.6 L1100.00,398.4 L1101.18,396.3 L1102.33,395.8 L1103.69,395.0 L1104.58,393.5 L1105.61,392.0 L1106.75,392.2 L1107.97,390.8 L1109.24,388.7 L1110.53,386.9 L1111.80,386.8 L1113.04,384.8 L1114.20,382.3 L1115.26,381.0 L1116.19,379.1 L1117.06,378.0 L1117.84,374.6 L1118.53,372.9 L1119.16,369.7 L1119.73,365.7 L1120.27,364.0 L1120.79,361.1 L1121.30,359.7 L1121.83,358.4 L1122.37,356.9 L1123.30,357.6 L1124.20,361.0 L1125.00,361.2 L1125.54,361.1 L1125.98,358.9 L1126.37,356.5 L1126.76,353.9 L1127.19,350.9 L1127.54,348.4 L1127.91,345.1 L1128.28,343.1 L1128.66,339.5 L1129.05,336.5 L1129.44,334.2 L1129.84,330.3 L1130.24,329.2 L1130.65,326.6 L1131.06,327.1 L1131.63,327.8 L1132.22,328.3 L1132.81,330.9 L1133.38,334.3 L1133.88,336.7 L1134.05,337.8 L1134.20,338.7 L1134.35,339.9 L1134.49,342.0 L1134.61,343.8 L1134.72,345.3 L1134.83,347.4 L1134.92,349.2 L1135.01,352.2 L1135.08,354.4 L1135.15,356.0 L1135.21,358.4 L1135.27,361.3 L1135.32,363.7 L1135.36,367.0 L1135.40,368.7 L1135.43,371.3 L1135.46,375.0 L1135.49,376.6 L1135.51,380.1 L1135.53,382.5 L1135.55,386.2 L1135.57,388.6 L1135.58,391.9 L1135.60,393.9 L1135.61,397.6 L1135.63,400.4 L1135.65,403.1 L1135.66,406.6 L1135.69,409.6 L1135.71,411.3 L1135.74,414.5 L1135.77,417.4 L1135.80,420.0 L1135.84,422.6 L1135.89,425.6 L1135.94,428.2 L1136.00,431.6 L1136.06,433.8 L1136.13,435.7 L1136.19,438.5 L1136.26,441.2 L1136.32,443.6 L1136.38,445.8 L1136.45,448.2 L1136.51,450.7 L1136.58,454.9 L1136.64,457.1 L1136.71,458.7 L1136.77,462.3 L1136.84,465.4 L1136.91,467.4 L1136.97,469.3 L1137.04,472.6 L1137.11,475.2 L1137.18,477.4 L1137.24,480.7 L1137.31,482.5 L1137.39,486.6 L1137.46,488.8 L1137.53,491.4 L1137.60,494.5 L1137.68,496.6 L1137.75,498.6 L1137.83,501.1 L1137.91,503.5 L1137.99,505.8 L1138.07,509.5 L1138.15,512.1 L1138.24,513.6 L1138.32,515.9 L1138.41,518.9 L1138.50,521.6 L1138.59,524.0 L1138.68,525.1 L1138.77,528.2 L1138.87,530.5 L1138.97,532.5 L1139.06,533.8 L1139.17,535.6 L1139.27,538.6 L1139.38,539.7 L1139.55,542.8 L1139.72,546.2 L1139.91,549.0 L1140.09,553.0 L1140.29,555.2 L1140.48,558.0 L1140.68,562.0 L1140.89,565.0 L1141.09,568.1 L1141.30,570.5 L1141.50,573.2 L1141.71,575.4 L1141.91,576.5 L1142.11,578.0 L1142.31,578.5 L1142.50,579.4 L1142.69,580.1 L1142.86,579.1 L1143.03,579.4 L1143.20,577.4 L1143.36,576.4 L1143.52,575.5 L1143.68,571.9 L1143.84,569.5 L1143.99,567.5 L1144.15,564.3 L1144.31,562.2 L1144.47,557.9 L1144.63,556.1 L1144.79,552.9 L1144.95,549.5 L1145.12,545.7 L1145.28,542.3 L1145.46,539.8 L1145.63,536.6 L1145.81,533.7 L1146.00,530.9 L1146.18,528.7 L1146.36,526.7 L1146.54,524.5 L1146.73,522.1 L1146.91,518.5 L1147.10,516.2 L1147.29,513.9 L1147.48,511.6 L1147.67,508.7 L1147.87,505.9 L1148.07,503.3 L1148.27,501.1 L1148.47,498.9 L1148.68,497.2 L1148.89,494.7 L1149.10,492.2 L1149.31,490.0 L1149.53,487.7 L1149.75,484.8 L1149.98,482.9 L1150.21,479.5 L1150.44,478.4 L1150.72,475.7 L1150.99,472.7 L1151.25,470.7 L1151.52,468.8 L1151.78,465.7 L1152.05,463.6 L1152.33,460.7 L1152.63,458.5 L1152.94,457.1 L1153.27,453.6 L1153.62,451.8 L1154.01,450.5 L1154.42,448.1 L1154.88,445.6 L1155.49,444.3 L1156.16,441.8 L1156.87,440.1 L1157.62,438.0 L1158.39,436.3 L1159.17,434.5 L1159.96,432.4 L1160.74,430.0 L1161.50,428.1 L1162.21,427.2 L1162.96,424.6 L1163.74,421.8 L1164.52,420.8 L1165.31,417.6 L1166.08,415.2 L1166.82,413.7 L1167.52,411.1 L1168.17,409.4 L1168.75,407.6 L1169.25,405.2 L1169.77,403.5 L1170.18,400.7 L1170.51,399.4 L1170.81,397.6 L1171.11,394.8 L1171.44,393.1 L1171.75,390.4 L1172.07,388.8 L1172.39,387.2 L1172.70,384.3 L1173.02,382.1 L1173.33,379.8 L1173.64,376.2 L1173.95,375.2 L1174.25,372.3 L1174.51,368.9 L1174.77,367.4 L1175.02,363.8 L1175.27,360.5 L1175.52,358.8 L1175.77,355.3 L1176.01,353.1 L1176.26,349.9 L1176.51,349.2 L1176.75,346.9 L1177.00,346.8 L1177.32,347.5 L1177.66,348.3 L1178.00,351.3 L1178.33,353.3 L1178.64,356.5 L1178.93,360.3 L1179.19,363.0 L1179.30,365.3 L1179.41,366.6 L1179.50,368.8 L1179.59,370.2 L1179.66,372.7 L1179.73,374.7 L1179.80,375.7 L1179.85,378.8 L1179.90,380.4 L1179.94,383.4 L1179.98,385.7 L1180.01,388.3 L1180.04,389.7 L1180.07,392.6 L1180.09,395.8 L1180.11,398.7 L1180.12,401.0 L1180.14,402.6 L1180.15,406.2 L1180.16,408.1 L1180.17,411.6 L1180.19,414.8 L1180.20,416.5 L1180.21,420.6 L1180.23,423.0 L1180.24,425.1 L1180.26,427.8 L1180.29,431.0 L1180.31,434.4 L1180.33,436.2 L1180.35,437.8 L1180.36,440.1 L1180.38,442.7 L1180.38,446.5 L1180.39,448.2 L1180.40,451.6 L1180.40,454.1 L1180.40,457.7 L1180.40,460.2 L1180.39,462.9 L1180.39,467.2 L1180.38,469.8 L1180.38,473.3 L1180.37,476.7 L1180.36,480.2 L1180.35,482.0 L1180.35,485.8 L1180.34,488.8 L1180.33,492.7 L1180.32,496.6 L1180.31,499.8 L1180.30,501.8 L1180.29,505.3 L1180.29,509.5 L1180.28,512.4 L1180.28,515.1 L1180.27,518.2 L1180.27,520.7 L1180.27,524.7 L1180.27,526.8 L1180.28,530.4 L1180.28,532.6 L1180.29,534.3 L1180.30,537.2 L1180.31,539.4 L1180.33,542.7 L1180.35,544.3 L1180.37,545.4 L1180.40,547.5 L1180.43,549.5 L1180.46,551.2 L1180.50,552.8 L1180.54,553.7 L1180.58,554.7 L1180.63,555.1 L1180.68,556.7 L1180.74,556.8 L1180.81,556.6 L1180.88,557.4 L1181.01,558.0 L1181.17,555.7 L1181.34,554.6 L1181.52,553.7 L1181.71,551.0 L1181.91,548.7 L1182.12,546.4 L1182.33,543.2 L1182.53,540.7 L1182.74,537.5 L1182.94,535.1 L1183.13,532.0 L1183.31,527.4 L1183.48,525.3 L1183.62,522.8 L1183.73,520.8 L1183.83,518.4 L1183.92,515.9 L1184.00,513.6 L1184.08,510.7 L1184.14,508.1 L1184.21,506.4 L1184.26,504.0 L1184.32,501.5 L1184.37,498.5 L1184.42,495.3 L1184.47,493.4 L1184.51,490.8 L1184.56,487.7 L1184.61,485.3 L1184.66,482.2 L1184.71,480.0 L1184.77,477.2 L1184.83,474.1 L1184.89,472.0 L1184.96,469.5 L1185.04,468.1 L1185.12,464.9 L1185.21,462.4 L1185.31,460.0 L1185.43,457.3 L1185.55,454.8 L1185.67,451.8 L1185.78,448.9 L1185.90,447.6 L1186.01,444.2 L1186.14,441.6 L1186.27,439.2 L1186.40,436.2 L1186.55,433.6 L1186.71,431.0 L1186.89,429.1 L1187.08,426.9 L1187.30,425.5 L1187.53,423.3 L1187.78,422.1 L1188.06,419.4 L1188.64,417.7 L1189.28,415.0 L1189.97,412.2 L1190.68,410.5 L1191.38,409.2 L1192.02,407.8 L1192.68,404.4 L1193.35,402.9 L1194.02,400.8 L1194.69,400.9 L1195.37,400.2 L1196.06,402.3 L1196.75,405.1 L1197.41,406.5 L1198.00,408.7 L1198.43,410.5 L1198.80,413.3 L1199.12,416.4 L1199.43,420.0 L1199.72,422.0 L1200.03,424.5 L1200.37,425.7 L1200.75,427.0 L1201.19,426.9 L1201.67,425.2 L1202.18,422.4 L1202.70,420.7 L1203.22,418.3 L1203.72,414.7 L1204.19,411.0 L1204.62,409.6 L1204.97,407.6 L1205.29,404.5 L1205.58,402.0 L1205.86,399.8 L1206.12,398.0 L1206.38,396.3 L1206.64,393.5 L1206.89,391.6 L1207.16,388.1 L1207.44,385.8 L1207.71,384.0 L1207.99,381.0 L1208.27,377.5 L1208.56,374.7 L1208.84,371.0 L1209.13,367.4 L1209.42,365.0 L1209.70,361.7 L1209.97,360.4 L1210.24,358.2 L1210.50,357.3 L1210.75,357.1 L1211.02,356.9 L1211.29,358.4 L1211.56,359.4 L1211.82,363.1 L1212.07,365.2 L1212.31,368.8 L1212.54,370.4 L1212.75,374.4 L1212.94,377.7 L1213.04,378.8 L1213.13,380.3 L1213.21,382.3 L1213.29,384.4 L1213.35,387.5 L1213.41,388.6 L1213.47,392.1 L1213.52,393.8 L1213.56,396.5 L1213.60,399.0 L1213.64,401.5 L1213.67,404.3 L1213.70,406.8 L1213.72,409.1 L1213.74,412.4 L1213.76,414.3 L1213.78,417.8 L1213.80,420.6 L1213.81,423.4 L1213.83,425.4 L1213.85,428.9 L1213.86,431.9 L1213.88,433.8 L1213.90,436.1 L1213.92,439.2 L1213.94,442.4 L1213.97,443.7 L1213.99,446.0 L1214.03,449.2 L1214.06,451.8 L1214.10,454.7 L1214.14,456.8 L1214.18,460.7 L1214.21,462.4 L1214.24,466.4 L1214.27,468.5 L1214.30,471.6 L1214.33,474.9 L1214.36,478.0 L1214.39,481.9 L1214.42,485.1 L1214.45,487.6 L1214.49,491.8 L1214.52,493.7 L1214.56,496.1 L1214.60,498.7 L1214.64,502.0 L1214.69,504.5 L1214.74,505.3 L1214.79,506.8 L1214.85,509.5 L1214.91,509.8 L1214.97,511.8 L1215.05,511.6 L1215.12,512.0 L1215.20,511.3 L1215.26,511.2 L1215.30,509.3 L1215.34,507.4 L1215.37,506.2 L1215.39,502.5 L1215.41,500.7 L1215.43,496.7 L1215.46,494.4 L1215.49,490.7 L1215.54,488.1 L1215.59,483.3 L1215.67,480.7 L1215.76,477.0 L1215.88,474.5 L1216.02,471.4 L1216.18,467.9 L1216.38,464.6 L1216.61,462.2 L1216.88,460.2 L1217.19,458.8 L1217.54,457.2 L1217.94,456.4 L1219.35,457.5 L1220.96,458.7 L1222.38,458.4 L1222.84,458.7 L1223.22,456.1 L1223.52,454.9 L1223.76,452.0 L1223.94,450.7 L1224.08,447.9 L1224.20,444.0 L1224.29,441.8 L1224.38,438.7 L1224.46,434.7 L1224.57,431.7 L1224.69,429.0 L1224.86,426.9 L1225.07,423.2 L1225.34,421.8 L1225.69,419.9 L1226.29,417.4 L1226.96,415.7 L1227.67,414.6 L1228.43,412.0 L1229.23,411.5 L1230.06,408.9 L1230.90,407.8 L1231.82,406.1 L1232.80,403.1 L1233.80,402.3 L1234.80,400.6 L1235.77,397.5 L1236.68,395.1 L1237.50,393.3 L1238.29,392.3 L1239.03,388.1 L1239.72,386.7 L1240.38,382.8 L1240.98,381.5 L1241.54,379.0 L1242.06,378.7 L1242.43,380.2 L1242.74,380.9 L1243.00,383.7 L1243.23,387.6 L1243.44,390.6 L1243.63,394.2 L1243.82,397.7 L1244.00,399.1 L1244.21,401.8 L1244.43,404.3 L1244.69,404.7 L1244.97,403.2 L1245.22,402.6 L1245.47,400.2 L1245.72,398.0 L1245.98,394.6 L1246.28,391.4 L1246.61,389.8 L1247.01,385.8 L1247.46,384.1 L1248.00,380.7 L1248.75,379.2 L1249.61,376.6 L1250.55,375.3 L1251.54,373.2 L1252.56,372.3 L1253.58,369.8 L1254.56,369.1 L1255.68,366.6 L1256.87,363.5 L1258.07,361.5 L1259.22,359.8 L1260.26,359.1 L1261.12,358.0 L1261.68,358.6 L1262.07,361.7 L1262.35,364.0 L1262.56,366.8 L1262.76,369.1 L1262.99,372.0 L1263.30,374.7 L1263.75,376.4 L1264.74,378.9 L1265.88,381.7 L1267.00,382.3 L1267.83,381.8 L1268.68,379.8 L1269.52,377.0 L1270.29,375.6 L1270.94,373.1 L1271.32,371.1 L1271.57,369.0 L1271.74,367.0 L1271.89,365.3 L1272.09,362.9 L1272.40,360.5 L1272.87,358.0 L1273.54,355.9 L1274.33,354.2 L1275.21,353.2 L1276.18,350.5 L1277.22,348.8 L1278.31,347.2 L1279.44,345.1 L1280.59,345.0 L1281.83,342.0 L1283.14,341.5 L1284.49,340.7 L1285.87,338.3 L1287.25,337.7 L1288.62,336.1 L1289.94,334.8 L1291.28,333.6 L1292.63,332.5 L1293.99,332.6 L1295.33,331.6 L1296.64,331.0 L1297.91,328.8 L1299.12,329.2 L1300.73,327.7 L1302.30,327.2 L1303.75,326.6 L1305.00,326.5 L1305.90,328.6 L1306.63,328.8 L1307.24,332.2 L1307.79,334.9 L1308.31,337.3 L1308.56,339.0 L1308.78,341.3 L1308.98,341.9 L1309.17,344.4 L1309.33,346.7 L1309.49,348.2 L1309.63,351.0 L1309.75,352.8 L1309.87,355.5 L1309.97,358.1 L1310.07,360.8 L1310.15,362.9 L1310.24,366.0 L1310.31,368.6 L1310.38,370.9 L1310.45,374.3 L1310.51,376.6 L1310.58,380.4 L1310.64,382.6 L1310.71,385.8 L1310.78,388.3 L1310.86,391.1 L1310.94,393.5 L1311.00,395.5 L1311.05,399.1 L1311.10,400.8 L1311.15,403.2 L1311.18,405.7 L1311.22,408.7 L1311.24,410.3 L1311.27,412.9 L1311.29,416.6 L1311.30,418.7 L1311.32,421.7 L1311.33,424.8 L1311.34,427.7 L1311.35,430.4 L1311.36,431.9 L1311.36,435.3 L1311.37,438.8 L1311.38,441.6 L1311.38,443.2 L1311.39,446.1 L1311.40,449.0 L1311.42,451.5 L1311.43,454.6 L1311.45,458.0 L1311.47,460.2 L1311.49,462.6 L1311.52,464.6 L1311.56,467.5 L1311.60,470.9 L1311.64,472.8 L1311.69,474.7 L1311.75,476.9 L1311.81,479.6 L1311.88,481.5 L1311.96,482.5 L1312.05,485.2 L1312.15,486.4 L1312.25,488.3 L1312.49,490.8 L1312.77,493.6 L1313.07,495.8 L1313.39,498.0 L1313.71,499.4 L1314.03,501.7 L1314.34,504.4 L1314.62,505.9 L1314.88,508.8 L1315.02,511.6 L1315.16,513.0 L1315.29,515.3 L1315.41,517.4 L1315.52,520.7 L1315.63,521.9 L1315.72,525.3 L1315.81,528.2 L1315.90,529.7 L1315.98,532.7 L1316.06,535.9 L1316.13,538.3 L1316.21,540.6 L1316.28,542.8 L1316.35,546.1 L1316.42,548.6 L1316.49,551.8 L1316.57,553.8 L1316.65,556.5 L1316.73,559.5 L1316.81,562.2 L1316.90,564.0 L1316.99,566.9 L1317.07,570.1 L1317.15,573.7 L1317.23,575.7 L1317.31,580.1 L1317.39,582.9 L1317.47,585.6 L1317.55,589.2 L1317.63,591.7 L1317.71,594.3 L1317.79,598.1 L1317.87,600.1 L1317.96,602.7 L1318.04,604.8 L1318.13,607.2 L1318.22,608.4 L1318.31,608.3 L1318.40,609.9 L1318.50,609.9 L1318.60,609.7 L1318.70,609.7 L1318.81,608.0 L1318.91,606.8 L1319.02,605.8 L1319.13,603.1 L1319.25,601.0 L1319.36,598.5 L1319.47,596.4 L1319.59,593.3 L1319.71,590.5 L1319.82,586.8 L1319.94,583.1 L1320.06,580.9 L1320.17,577.4 L1320.29,574.5 L1320.41,571.3 L1320.52,567.1 L1320.64,564.2 L1320.75,561.0 L1320.83,560.2 L1320.90,557.0 L1320.98,554.9 L1321.05,553.7 L1321.12,551.2 L1321.19,548.1 L1321.26,546.8 L1321.33,544.5 L1321.40,541.7 L1321.47,538.6 L1321.54,537.1 L1321.60,534.2 L1321.67,531.9 L1321.74,530.0 L1321.81,527.2 L1321.87,524.6 L1321.94,520.9 L1322.01,518.5 L1322.08,516.2 L1322.14,512.7 L1322.21,511.6 L1322.28,507.8 L1322.35,505.1 L1322.43,502.5 L1322.50,499.8 L1322.57,498.1 L1322.65,495.0 L1322.72,492.3 L1322.80,489.6 L1322.88,486.4 L1322.96,484.3 L1323.04,482.6 L1323.12,480.0 L1323.20,477.7 L1323.29,474.3 L1323.38,471.8 L1323.47,469.2 L1323.56,467.7 L1323.66,465.1 L1323.76,463.1 L1323.86,460.9 L1323.96,459.0 L1324.06,456.6 L1324.21,454.5 L1324.36,450.8 L1324.50,449.2 L1324.65,445.9 L1324.79,442.4 L1324.94,440.2 L1325.09,437.9 L1325.25,435.1 L1325.40,432.8 L1325.56,430.0 L1325.72,427.4 L1325.89,425.9 L1326.07,422.7 L1326.24,421.1 L1326.43,418.9 L1326.62,416.4 L1326.82,414.1 L1327.02,412.7 L1327.24,409.9 L1327.46,408.7 L1327.70,405.5 L1327.94,404.3 L1328.34,401.7 L1328.73,398.1 L1329.13,396.9 L1329.55,393.3 L1330.02,391.9 L1330.55,389.1 L1331.16,388.2 L1331.88,385.6 L1332.65,384.0 L1333.50,381.5 L1334.42,379.8 L1335.41,378.0 L1336.44,375.7 L1337.51,374.1 L1338.62,374.1 L1339.75,372.3 L1340.94,373.4 L1342.22,372.5 L1343.57,372.9 L1344.94,373.8 L1346.30,376.0 L1347.62,377.4 L1348.86,377.8 L1350.00,379.5 L1351.17,380.3 L1352.28,383.0 L1353.33,384.5 L1354.31,385.6 L1355.21,387.5 L1356.02,390.5 L1356.75,391.5 L1357.38,394.8 L1357.87,396.0 L1358.27,398.0 L1358.63,400.7 L1359.00,402.5 L1359.44,405.3 L1359.80,406.6 L1360.16,409.8 L1360.51,411.0 L1360.87,413.9 L1361.24,415.0 L1361.63,418.3 L1362.05,420.8 L1362.49,422.1 L1362.97,423.8 L1363.50,426.6 L1364.06,429.2 L1364.68,430.7 L1365.35,433.4 L1366.06,434.9 L1366.79,437.7 L1367.54,440.4 L1368.29,442.1 L1369.03,444.7 L1369.74,446.0 L1370.42,449.3 L1371.05,450.2 L1371.62,453.5 L1372.21,456.1 L1372.70,458.7 L1373.13,460.7 L1373.54,463.0 L1373.97,465.5 L1374.44,468.1 L1375.00,469.2 L1375.69,470.8 L1376.96,469.6 L1378.43,469.4 L1379.89,468.5 L1381.12,465.9 L1381.56,464.4 L1381.95,461.9 L1382.29,459.9 L1382.59,457.6 L1382.85,455.8 L1383.07,452.6 L1383.25,448.4 L1383.41,446.2 L1383.54,441.3 L1383.65,438.8 L1383.75,435.9 L1383.82,431.6 L1383.89,429.3 L1383.95,425.8 L1384.01,422.0 L1384.07,420.0 L1384.13,418.0 L1384.20,415.9 L1384.28,415.3 L1384.38,413.6 L1384.50,414.3 L1384.62,413.7 L1384.72,414.1 L1384.80,416.1 L1384.88,417.0 L1384.94,419.7 L1385.00,422.4 L1385.04,424.6 L1385.09,427.2 L1385.14,429.6 L1385.18,433.5 L1385.23,436.1 L1385.29,440.3 L1385.36,442.8 L1385.44,446.8 L1385.53,449.7 L1385.64,452.9 L1385.76,456.3 L1385.91,458.3 L1386.08,460.9 L1386.28,464.4 L1386.50,465.4 L1386.87,469.0 L1387.24,471.6 L1387.63,473.4 L1388.06,475.1 L1388.55,477.1 L1389.12,480.3 L1389.78,480.8 L1390.56,483.0 L1391.66,484.8 L1392.93,485.6 L1394.31,487.5 L1395.77,488.0 L1397.24,489.3 L1398.69,489.5 L1400.02,489.2 L1401.40,488.5 L1402.82,488.1 L1404.23,486.8 L1405.60,485.4 L1406.91,484.2 L1408.12,483.6 L1409.04,481.5 L1409.92,480.4 L1410.75,477.1 L1411.54,476.5 L1412.29,473.6 L1413.01,471.8 L1413.71,469.1 L1414.37,466.8 L1415.02,463.7 L1415.64,462.1 L1416.25,458.7 L1416.78,456.8 L1417.29,454.2 L1417.77,452.6 L1418.22,450.6 L1418.65,447.9 L1419.07,446.6 L1419.46,443.0 L1419.85,441.4 L1420.22,438.5 L1420.58,436.6 L1420.93,434.5 L1421.28,431.9 L1421.62,428.3 L1421.91,426.4 L1422.19,424.7 L1422.46,423.1 L1422.72,419.3 L1422.98,417.9 L1423.22,415.7 L1423.46,413.6 L1423.69,410.4 L1423.91,408.8 L1424.12,405.8 L1424.33,404.1 L1424.54,400.1 L1424.74,399.1 L1424.94,395.8 L1425.13,393.2 L1425.32,390.2 L1425.50,387.9 L1425.69,386.1 L1425.84,383.6 L1425.99,380.2 L1426.12,377.8 L1426.25,374.6 L1426.37,371.6 L1426.49,368.6 L1426.60,365.5 L1426.70,363.3 L1426.81,360.1 L1426.91,356.6 L1427.00,352.9 L1427.10,349.8 L1427.19,347.2 L1427.29,344.5 L1427.39,341.5 L1427.49,338.7 L1427.59,335.6 L1427.69,334.1 L1427.80,332.6 L1427.92,330.9 L1428.04,328.4 L1428.16,328.5 L1428.30,327.3 L1428.44,326.8 L1428.66,328.4 L1428.90,328.9 L1429.16,330.6 L1429.42,331.7 L1429.69,335.2 L1429.96,338.2 L1430.22,341.2 L1430.47,344.1 L1430.71,347.5 L1430.93,350.6 L1431.12,353.4 L1431.22,355.0 L1431.32,357.4 L1431.40,359.3 L1431.48,361.4 L1431.56,362.5 L1431.62,365.7 L1431.68,367.1 L1431.74,370.0 L1431.79,370.9 L1431.84,374.6 L1431.88,376.6 L1431.92,378.1 L1431.96,381.5 L1431.99,383.0 L1432.02,385.4 L1432.04,388.4 L1432.07,390.6 L1432.09,393.6 L1432.11,396.9 L1432.13,399.1 L1432.15,401.8 L1432.17,404.0 L1432.19,407.3 L1432.20,410.1 L1432.22,412.6 L1432.24,415.8 L1432.26,418.3 L1432.28,420.4 L1432.31,422.7 L1432.33,426.3 L1432.36,429.4 L1432.39,431.3 L1432.42,434.5 L1432.46,437.6 L1432.50,440.3 L1432.54,441.3 L1432.57,444.3 L1432.61,445.9 L1432.64,448.4 L1432.68,452.0 L1432.71,453.8 L1432.75,456.5 L1432.79,458.8 L1432.82,461.1 L1432.86,463.4 L1432.90,466.2 L1432.94,469.6 L1432.97,471.8 L1433.01,473.9 L1433.05,476.2 L1433.09,479.1 L1433.13,482.5 L1433.16,484.7 L1433.20,487.8 L1433.24,490.7 L1433.28,492.3 L1433.32,495.8 L1433.36,497.5 L1433.40,501.4 L1433.43,503.1 L1433.47,505.9 L1433.51,509.7 L1433.55,511.4 L1433.59,513.9 L1433.63,517.6 L1433.67,519.8 L1433.71,522.9 L1433.75,524.7 L1433.79,527.5 L1433.83,530.8 L1433.87,532.6 L1433.91,536.0 L1433.95,537.2 L1433.99,540.7 L1434.03,542.1 L1434.07,545.1 L1434.11,546.7 L1434.15,549.4 L1434.18,552.9 L1434.22,554.5 L1434.26,557.3 L1434.30,558.7 L1434.34,561.0 L1434.38,562.8 L1434.42,565.6 L1434.46,568.2 L1434.50,569.6 L1434.55,572.3 L1434.61,576.3 L1434.65,579.3 L1434.70,582.2 L1434.74,584.4 L1434.78,588.5 L1434.82,591.5 L1434.86,595.5 L1434.90,597.8 L1434.95,601.4 L1434.99,604.4 L1435.03,606.9 L1435.08,609.9 L1435.12,612.9 L1435.18,615.8 L1435.23,617.4 L1435.29,619.4 L1435.36,622.3 L1435.43,622.5 L1435.50,625.1 L1435.58,626.0 L1435.67,626.7 L1435.77,627.0 L1435.87,627.7 L1436.00,627.7 L1436.14,626.7 L1436.28,625.6 L1436.43,622.9 L1436.58,621.5 L1436.74,619.0 L1436.90,617.8 L1437.07,615.0 L1437.25,610.9 L1437.43,608.5 L1437.62,605.3 L1437.81,601.2 L1438.00,598.5 L1438.20,595.8 L1438.40,592.4 L1438.61,588.6 L1438.82,586.4 L1439.03,582.7 L1439.25,580.5 L1439.46,577.9 L1439.67,576.4 L1439.89,573.4 L1440.12,571.3 L1440.35,568.6 L1440.58,565.7 L1440.82,564.2 L1441.07,561.3 L1441.32,558.8 L1441.57,555.7 L1441.82,553.0 L1442.08,551.2 L1442.33,549.1 L1442.59,546.6 L1442.85,543.4 L1443.11,540.6 L1443.36,538.7 L1443.62,536.8 L1443.87,533.2 L1444.13,531.6 L1444.38,528.2 L1444.62,526.0 L1444.87,523.0 L1445.11,520.7 L1445.35,517.9 L1445.58,515.8 L1445.82,512.6 L1446.05,508.2 L1446.28,505.1 L1446.51,502.9 L1446.75,498.4 L1446.98,495.4 L1447.22,492.5 L1447.45,489.0 L1447.69,486.4 L1447.94,483.9 L1448.18,481.4 L1448.44,480.0 L1448.69,476.9 L1448.95,475.1 L1449.22,474.8 L1449.49,473.1 L1449.77,473.0 L1450.06,472.4 L1450.54,473.3 L1451.05,474.5 L1451.57,477.0 L1452.10,481.2 L1452.63,483.9 L1453.15,486.9 L1453.65,489.0 L1454.12,489.9 L1454.69,488.5 L1455.23,486.9 L1455.75,485.2 L1456.27,481.7 L1456.81,478.4 L1457.13,477.2 L1457.46,474.6 L1457.79,473.4 L1458.12,470.0 L1458.46,469.0 L1458.80,466.1 L1459.14,463.3 L1459.48,461.6 L1459.82,457.9 L1460.16,455.2 L1460.51,452.3 L1460.85,450.3 L1461.18,448.0 L1461.52,445.2 L1461.86,442.2 L1462.19,440.3 L1462.50,436.8 L1462.81,434.7 L1463.12,432.7 L1463.44,430.7 L1463.76,427.6 L1464.07,425.1 L1464.39,422.7 L1464.70,419.5 L1465.01,417.8 L1465.32,414.9 L1465.63,411.8 L1465.93,409.4 L1466.23,407.7 L1466.52,404.6 L1466.81,402.1 L1467.09,401.1 L1467.36,398.5 L1467.62,396.5 L1467.99,394.3 L1468.35,392.3 L1468.70,389.0 L1469.03,387.3 L1469.36,384.9 L1469.68,383.5 L1470.00,381.5 L1470.31,379.8 L1470.58,377.3 L1470.84,374.9 L1471.09,372.4 L1471.33,370.3 L1471.57,367.4 L1471.81,365.9 L1472.05,363.4 L1472.28,361.1 L1472.52,357.5 L1472.76,356.0 L1473.00,353.7 L1473.22,350.8 L1473.40,348.8 L1473.56,346.1 L1473.71,343.0 L1473.86,340.4 L1474.03,337.4 L1474.24,335.2 L1474.50,331.7 L1474.83,330.6 L1475.24,328.9 L1475.75,327.5 L1477.14,325.3 L1478.72,324.2 L1479.81,325.3 L1480.00,327.2 L1479.69,329.0 L1479.38,331.5" stroke="#FA7886" stroke-width="5.2"/><path d="M92.94,655.6 L94.47,655.5 L96.00,656.7 L97.52,657.4 L99.04,657.2 L100.55,656.5 L102.06,657.3 L103.57,656.3 L105.07,657.9 L106.57,657.1 L108.07,656.7 L109.57,657.9 L111.06,657.2 L112.56,657.6 L114.06,657.4 L115.56,658.2 L117.06,658.6 L118.56,659.2 L120.06,657.9 L121.57,659.5 L123.08,658.4 L124.59,658.7 L126.11,659.6 L127.64,659.2 L129.17,659.3 L130.70,659.9 L132.25,659.4 L133.80,660.5 L135.35,659.6 L136.92,660.9 L138.49,660.9 L140.08,660.5 L141.67,659.7 L143.28,661.2 L144.89,659.9 L146.52,660.9 L148.16,660.8 L149.81,660.2 L151.25,661.3 L152.70,661.5 L154.16,661.3 L155.63,661.0 L157.10,661.3 L158.59,661.4 L160.08,660.8 L161.58,662.0 L163.09,662.2 L164.60,661.9 L166.12,662.2 L167.65,661.1 L169.19,662.3 L170.73,660.6 L172.27,661.4 L173.83,660.8 L175.38,661.3 L176.94,661.7 L178.51,661.8 L180.08,661.3 L181.65,661.1 L183.23,660.8 L184.81,661.2 L186.40,660.9 L187.98,660.8 L189.57,661.7 L191.16,661.3 L192.76,661.1 L194.35,660.7 L195.95,661.6 L197.55,660.6 L199.14,660.7 L200.74,661.2 L202.34,661.5 L203.94,662.0 L205.54,661.5 L207.13,661.9 L208.73,661.8 L210.32,661.4 L211.92,661.4 L213.51,660.2 L215.10,660.5 L216.68,660.1 L218.26,661.6 L219.84,661.4 L221.42,661.2 L222.99,660.6 L224.56,660.7 L226.13,660.4 L227.69,661.2 L229.25,661.9 L230.81,660.7 L232.37,660.2 L233.94,660.5 L235.51,660.8 L237.09,661.8 L238.66,661.7 L240.24,661.1 L241.82,660.5 L243.40,660.5 L244.98,660.6 L246.57,661.8 L248.15,661.3 L249.74,662.2 L251.32,662.1 L252.91,662.0 L254.50,661.4 L256.08,662.1 L257.67,660.9 L259.26,660.9 L260.84,661.7 L262.42,661.7 L264.01,661.2 L265.59,661.3 L267.17,660.9 L268.75,662.5 L270.32,662.2 L271.90,662.7 L273.47,662.8 L275.04,661.8 L276.61,662.4 L278.17,661.8 L279.73,662.6 L281.29,662.7 L282.84,661.4 L284.39,661.2 L285.94,661.6 L287.48,662.3 L289.01,662.0 L290.55,661.3 L292.07,662.8 L293.59,662.8 L295.11,662.2 L296.62,661.4 L298.13,663.0 L299.63,662.4 L301.12,661.5 L302.61,662.0 L304.09,662.5 L305.56,663.0 L307.21,662.3 L308.86,662.5 L310.51,661.7 L312.17,661.8 L313.82,663.0 L315.48,662.0 L317.14,661.5 L318.80,662.3 L320.46,661.4 L322.11,661.5 L323.77,661.9 L325.42,662.1 L327.07,662.2 L328.71,662.2 L330.35,661.7 L331.99,661.0 L333.61,662.1 L335.24,660.9 L336.85,661.6 L338.45,661.4 L340.05,661.8 L341.64,661.8 L343.21,660.9 L344.78,661.6 L346.34,661.7 L347.88,661.2 L349.41,660.6 L350.92,661.9 L352.42,661.3 L353.91,660.3 L355.38,660.6 L356.84,661.9 L358.28,660.5 L359.70,660.8 L361.10,661.5 L362.48,661.6 L363.85,661.2 L365.19,661.4 L366.51,660.2 L367.81,660.3 L369.62,661.9 L371.39,661.6 L373.13,660.2 L374.83,660.2 L376.50,660.5 L378.14,661.8 L379.75,660.5 L381.34,661.3 L382.90,661.8 L384.44,661.3 L385.96,661.8 L387.46,660.7 L388.94,660.5 L390.41,660.4 L391.86,661.8 L393.31,660.8 L394.74,662.5 L396.17,662.2 L397.59,661.5 L399.00,662.9 L400.60,662.1 L402.19,663.2 L403.78,663.0 L405.37,664.9 L406.93,665.8 L408.48,666.6 L410.01,665.7 L411.51,667.9 L412.97,668.1 L414.40,669.2 L415.79,669.1 L417.13,669.7 L418.41,669.9 L419.64,670.4 L420.81,669.0 L422.36,668.5 L423.75,668.4 L425.04,666.6 L426.28,665.5 L427.50,663.7 L428.77,664.2 L430.12,662.6 L431.43,664.4 L432.77,665.1 L434.13,665.5 L435.51,666.2 L436.91,668.5 L438.32,669.2 L439.75,671.0 L441.18,671.7 L442.62,674.4 L443.97,674.3 L445.39,674.5 L446.86,674.4 L448.34,676.0 L449.81,676.5 L451.26,677.0 L452.64,676.2 L453.94,677.4 L455.13,678.3 L456.19,680.4 L457.03,680.9 L457.75,683.9 L458.38,687.1 L458.92,689.5 L459.39,691.0 L459.82,694.1 L460.22,697.0 L460.61,700.7 L461.01,702.7 L461.44,704.4 L461.91,705.5 L462.44,705.8 L463.08,705.8 L463.74,704.6 L464.40,703.2 L465.08,700.5 L465.76,698.0 L466.46,695.6 L467.17,693.0 L467.89,690.6 L468.62,687.8 L469.80,687.0 L471.04,685.6 L472.24,683.7 L473.31,684.3 L474.12,684.3 L474.76,688.0 L475.45,689.6 L476.44,691.5 L477.44,690.5 L478.64,689.7 L479.99,688.3 L481.44,686.5 L482.94,684.3 L484.45,683.4 L485.92,683.4 L487.31,682.7 L488.40,683.7 L489.52,684.2 L490.67,685.5 L491.82,687.2 L492.96,688.5 L494.09,689.5 L495.19,691.4 L496.25,693.8 L497.25,695.3 L498.19,697.8 L499.05,701.0 L499.81,703.1 L500.51,704.0 L501.13,706.9 L501.66,709.1 L502.12,711.5 L502.53,713.6 L502.90,715.4 L503.23,716.9 L503.55,720.6 L503.86,722.0 L504.17,725.0 L504.50,727.0 L504.78,729.4 L505.01,732.5 L505.21,733.3 L505.38,736.3 L505.53,738.9 L505.68,741.1 L505.82,744.2 L505.98,745.7 L506.15,749.0 L506.35,751.0 L506.58,753.8 L506.85,754.5 L507.18,756.9 L507.56,759.2 L508.04,762.6 L508.58,763.2 L509.16,765.8 L509.79,768.8 L510.44,771.4 L511.13,772.0 L511.83,774.5 L512.54,777.0 L513.26,779.0 L513.98,781.0 L514.68,783.0 L515.38,784.0 L516.12,786.2 L516.85,788.0 L517.58,791.3 L518.31,792.6 L519.05,794.8 L519.81,798.1 L520.60,799.5 L521.42,801.3 L522.28,803.2 L523.19,804.7 L524.26,806.4 L525.42,806.9 L526.64,807.5 L527.88,808.5 L529.12,809.4 L530.33,811.1 L531.46,812.1 L532.50,813.7 L533.28,816.1 L534.01,818.8 L534.69,820.4 L535.34,821.9 L535.95,825.1 L536.53,826.5 L537.09,828.9 L537.63,831.8 L538.16,834.5 L538.69,837.5 L539.22,839.6 L539.76,842.4 L540.31,843.6 L540.90,847.4 L541.46,848.7 L542.00,852.0 L542.53,852.9 L543.06,856.6 L543.59,857.8 L544.12,861.2 L544.67,863.4 L545.25,865.3 L545.86,866.8 L546.50,868.4 L547.20,871.0 L547.94,874.8 L548.71,876.1 L549.50,879.6 L550.30,882.0 L551.11,884.5 L551.93,885.6 L552.74,887.1 L553.53,888.1 L554.31,890.1 L555.23,888.6 L556.17,887.9 L557.11,886.0 L558.04,883.2 L558.93,880.6 L559.78,878.1 L560.56,877.3 L561.17,873.9 L561.68,873.0 L562.12,869.2 L562.53,867.1 L562.93,863.4 L563.37,862.1 L563.87,859.0 L564.46,857.6 L565.19,856.8 L566.30,855.9 L567.59,857.0 L568.93,859.1 L570.25,859.0 L571.44,859.1 L572.29,858.8 L573.06,856.2 L573.78,854.1 L574.46,851.7 L575.11,849.4 L575.74,846.6 L576.37,844.4 L577.02,841.6 L577.69,840.1 L578.46,836.1 L579.21,834.4 L579.97,831.9 L580.72,828.2 L581.49,825.7 L582.29,824.9 L583.12,823.7 L583.98,825.0 L584.89,827.2 L585.82,828.6 L586.76,831.4 L587.68,834.5 L588.56,835.7 L589.38,836.4 L589.99,836.1 L590.51,834.0 L590.96,831.8 L591.39,829.6 L591.81,826.9 L592.25,824.6 L592.74,821.0 L593.31,817.4 L593.99,815.5 L594.81,814.8 L595.95,813.6 L597.30,813.8 L598.75,814.0 L600.25,813.9 L601.70,812.6 L603.02,813.7 L604.12,811.9 L604.83,810.1 L605.42,808.2 L605.89,807.4 L606.28,804.0 L606.61,801.2 L606.89,798.9 L607.15,797.4 L607.41,793.9 L607.68,791.8 L607.99,788.1 L608.36,786.5 L608.81,784.2 L609.47,781.4 L610.13,779.5 L610.82,776.4 L611.56,773.5 L612.36,773.0 L613.25,770.5 L614.25,769.0 L615.53,768.4 L617.01,769.7 L618.59,770.1 L620.15,770.4 L621.60,772.7 L622.81,775.0 L623.40,776.0 L623.92,777.0 L624.38,779.2 L624.78,781.3 L625.12,783.6 L625.42,784.9 L625.68,788.5 L625.91,791.3 L626.11,793.5 L626.29,796.4 L626.46,798.2 L626.62,801.9 L626.77,803.3 L626.93,806.1 L627.10,809.4 L627.29,812.6 L627.50,813.6 L627.69,816.2 L627.85,818.2 L627.99,821.4 L628.12,823.4 L628.23,826.1 L628.33,829.8 L628.42,832.1 L628.50,835.4 L628.58,837.2 L628.67,840.3 L628.76,841.7 L628.86,846.0 L628.96,847.3 L629.09,850.2 L629.23,852.6 L629.39,855.7 L629.58,857.0 L629.79,860.0 L630.03,861.2 L630.31,862.2 L630.62,864.9 L631.30,866.5 L632.07,870.6 L632.90,872.0 L633.74,873.4 L634.56,876.0 L635.31,875.2 L635.90,874.5 L636.47,872.4 L637.01,870.1 L637.53,865.6 L638.03,862.8 L638.53,859.1 L639.02,857.5 L639.51,854.1 L640.00,854.5 L640.44,854.5 L640.86,856.5 L641.27,859.2 L641.67,862.5 L642.07,864.9 L642.47,868.7 L642.87,871.9 L643.29,876.5 L643.71,877.5 L644.16,879.2 L644.62,880.5 L645.16,880.3 L645.69,879.7 L646.23,876.5 L646.78,874.6 L647.36,872.0 L647.97,870.0 L648.62,866.9 L649.31,864.1 L649.76,863.3 L650.22,861.1 L650.71,859.6 L651.21,857.8 L651.72,854.5 L652.25,853.5 L652.80,850.3 L653.35,847.4 L653.92,846.6 L654.50,842.7 L655.10,840.1 L655.70,838.1 L656.31,835.6 L656.92,834.3 L657.55,831.7 L658.18,828.3 L658.81,826.0 L659.45,824.1 L660.09,821.6 L660.74,818.9 L661.38,816.3 L662.03,813.2 L662.67,811.2 L663.31,809.8 L663.99,807.4 L664.68,805.4 L665.36,803.2 L666.04,800.9 L666.73,797.1 L667.42,794.4 L668.11,793.5 L668.81,790.5 L669.52,787.4 L670.23,785.9 L670.95,782.8 L671.69,780.5 L672.43,778.6 L673.18,776.7 L673.95,775.0 L674.73,771.9 L675.53,771.3 L676.34,769.3 L677.16,767.4 L678.01,766.3 L678.88,765.1 L680.19,761.9 L681.58,761.1 L683.02,760.0 L684.50,758.8 L685.99,757.6 L687.48,755.8 L688.93,756.5 L690.34,755.6 L691.68,754.3 L692.94,754.5 L694.35,755.8 L695.68,755.5 L696.94,757.2 L698.17,759.5 L699.41,760.2 L700.69,759.1 L701.75,759.4 L702.79,757.6 L703.83,756.6 L704.87,755.0 L705.92,751.8 L706.99,749.8 L708.09,747.5 L709.22,745.5 L710.40,743.1 L711.62,741.5 L712.78,740.6 L713.95,739.3 L715.16,737.3 L716.39,736.8 L717.65,736.2 L718.93,734.2 L720.24,732.6 L721.58,732.0 L722.94,730.3 L724.33,728.7 L725.75,728.2 L727.19,726.3 L728.53,726.6 L729.96,724.6 L731.46,724.0 L733.00,724.0 L734.59,722.6 L736.19,721.6 L737.80,720.3 L739.40,719.4 L740.97,718.8 L742.50,718.6 L743.98,716.7 L745.38,717.4 L746.70,716.4 L747.91,716.4 L749.00,717.8 L750.26,718.4 L751.31,720.6 L752.21,722.8 L753.04,724.7 L753.85,726.3 L754.69,728.0 L755.64,730.4 L756.75,731.4 L757.74,730.5 L758.81,729.5 L759.93,728.3 L761.10,727.2 L762.31,726.5 L763.55,723.4 L764.82,721.8 L766.10,720.0 L767.38,718.9 L768.66,717.7 L769.92,714.5 L771.17,713.5 L772.37,714.3 L773.77,714.0 L775.18,712.6 L776.59,713.4 L777.99,714.3 L779.39,714.5 L780.78,715.3 L782.15,715.9 L783.49,715.7 L784.81,715.2 L786.27,714.6 L787.75,713.5 L789.22,712.0 L790.66,711.3 L792.05,710.0 L793.37,707.9 L794.59,708.1 L795.69,707.7 L796.85,707.8 L797.79,709.7 L798.75,710.8 L800.00,713.1 L801.03,712.4 L802.21,711.0 L803.50,710.5 L804.89,710.5 L806.36,708.8 L807.88,708.1 L809.44,705.9 L811.00,705.7 L812.56,704.5 L814.09,702.3 L815.56,702.5 L816.98,701.2 L818.44,701.5 L819.94,701.1 L821.44,700.5 L822.95,698.9 L824.44,698.3 L825.90,699.1 L827.31,698.8 L828.66,698.1 L829.94,698.6 L831.12,699.9 L832.32,700.3 L833.41,703.2 L834.43,704.8 L835.38,707.5 L836.27,710.6 L837.13,713.4 L837.97,716.2 L838.80,716.9 L839.64,719.5 L840.50,719.2 L841.59,718.7 L842.66,717.4 L843.71,715.1 L844.75,712.5 L845.76,711.2 L846.75,709.3 L847.58,709.9 L848.40,711.6 L849.22,712.4 L850.02,714.2 L850.79,716.6 L851.54,720.0 L852.26,722.7 L852.94,725.1 L853.35,727.4 L853.73,729.2 L854.09,730.8 L854.42,733.5 L854.74,737.2 L855.03,739.0 L855.31,743.2 L855.58,745.5 L855.84,748.7 L856.09,752.8 L856.34,755.3 L856.59,759.9 L856.83,762.7 L857.08,764.8 L857.34,766.9 L857.61,769.0 L857.89,771.7 L858.19,773.4 L858.50,774.4 L858.83,775.8 L859.19,775.9 L859.80,775.7 L860.43,772.6 L861.08,769.9 L861.75,767.6 L862.43,765.0 L863.14,762.6 L863.88,762.4 L864.77,762.3 L865.73,764.4 L866.70,767.0 L867.64,769.4 L868.50,770.1 L869.05,768.8 L869.52,767.6 L869.92,766.7 L870.29,764.4 L870.66,761.2 L871.03,757.5 L871.45,755.2 L871.93,752.7 L872.50,749.3 L873.19,746.4 L873.84,746.1 L874.54,743.8 L875.27,740.2 L876.05,738.6 L876.86,736.5 L877.72,733.6 L878.62,730.9 L879.55,729.9 L880.53,727.8 L881.54,725.1 L882.59,722.5 L883.69,721.3 L884.82,719.1 L885.98,719.2 L887.19,716.4 L888.50,715.9 L889.91,716.1 L891.40,714.5 L892.95,714.2 L894.55,714.0 L896.19,714.2 L897.85,715.0 L899.52,715.7 L901.19,714.7 L902.84,714.8 L904.46,716.0 L906.04,715.3 L907.55,714.9 L909.00,714.1 L910.54,713.6 L912.03,714.0 L913.47,711.5 L914.88,710.6 L916.27,710.2 L917.64,709.3 L919.01,708.2 L920.38,706.4 L921.77,706.5 L923.18,705.3 L924.62,704.4 L926.02,704.8 L927.44,705.6 L928.87,706.2 L930.32,705.9 L931.78,706.9 L933.24,709.3 L934.69,708.7 L936.14,710.9 L937.57,710.9 L938.99,711.3 L940.38,711.8 L941.75,712.2 L943.20,713.0 L944.61,711.0 L945.98,711.6 L947.33,709.7 L948.68,708.5 L950.03,708.6 L951.41,706.9 L952.81,705.7 L954.25,705.3 L955.75,705.4 L957.15,705.1 L958.64,704.3 L960.20,703.1 L961.81,704.4 L963.45,704.1 L965.09,704.6 L966.72,704.7 L968.31,703.5 L969.85,704.3 L971.30,704.0 L972.66,702.6 L973.90,702.3 L975.00,701.6 L976.40,699.9 L977.59,697.7 L978.63,694.8 L979.55,692.8 L980.43,692.4 L981.31,690.8 L982.22,692.0 L983.00,694.3 L983.84,696.2 L984.94,697.0 L986.11,699.2 L987.53,699.7 L989.10,700.7 L990.72,700.8 L992.28,701.3 L993.68,701.9 L994.81,701.4 L996.23,702.7 L997.50,703.1 L998.52,705.2 L999.65,705.9 L1000.81,708.6 L1001.94,709.7 L1002.94,711.1 L1003.77,709.5 L1004.52,708.8 L1005.22,706.8 L1005.89,704.6 L1006.56,701.2 L1007.18,700.7 L1007.77,698.4 L1008.35,696.3 L1008.92,694.2 L1009.51,691.2 L1010.13,691.0 L1010.94,688.2 L1011.80,685.9 L1012.62,684.0 L1013.31,684.3 L1013.76,684.9 L1014.12,686.5 L1014.41,687.4 L1014.66,690.1 L1014.89,692.7 L1015.13,695.3 L1015.24,697.4 L1015.35,698.8 L1015.44,702.5 L1015.51,704.0 L1015.58,706.5 L1015.63,709.5 L1015.68,713.8 L1015.72,716.0 L1015.75,719.8 L1015.77,723.1 L1015.80,727.2 L1015.81,730.9 L1015.83,733.0 L1015.85,736.9 L1015.87,740.5 L1015.89,742.7 L1015.92,746.3 L1015.95,748.7 L1015.99,750.3 L1016.04,753.4 L1016.09,754.7 L1016.16,755.3 L1016.24,757.2 L1016.33,758.4 L1016.44,758.0 L1016.59,757.5 L1016.74,756.0 L1016.90,754.7 L1017.06,751.6 L1017.23,747.7 L1017.41,744.6 L1017.60,741.2 L1017.81,738.9 L1018.03,735.3 L1018.28,731.5 L1018.56,730.7 L1018.86,727.6 L1019.19,728.0 L1019.92,728.2 L1020.72,730.4 L1021.44,732.0 L1021.83,733.1 L1022.15,736.0 L1022.41,739.0 L1022.65,741.6 L1022.87,743.5 L1023.10,745.8 L1023.37,749.2 L1023.69,751.3 L1024.22,753.1 L1024.80,757.2 L1025.39,759.5 L1025.94,759.4 L1026.35,758.6 L1026.75,757.6 L1027.14,755.6 L1027.51,751.6 L1027.86,748.9 L1028.19,746.2 L1028.40,744.7 L1028.56,741.2 L1028.68,739.2 L1028.78,736.3 L1028.88,733.7 L1029.00,730.0 L1029.15,728.9 L1029.35,726.6 L1029.63,723.7 L1030.00,722.5 L1030.76,719.6 L1031.66,719.7 L1032.69,717.8 L1033.63,717.0 L1034.69,716.1 L1035.82,714.1 L1036.96,713.9 L1038.06,711.4 L1039.19,709.4 L1040.35,708.4 L1041.48,707.3 L1042.55,705.9 L1043.50,705.5 L1044.52,705.3 L1045.41,707.5 L1046.19,709.1 L1046.47,709.6 L1046.71,712.0 L1046.92,714.1 L1047.10,715.4 L1047.25,718.0 L1047.38,719.8 L1047.48,722.4 L1047.56,725.4 L1047.62,728.3 L1047.67,731.2 L1047.71,733.4 L1047.74,736.3 L1047.75,739.8 L1047.77,743.5 L1047.79,746.4 L1047.80,748.3 L1047.82,751.1 L1047.85,754.2 L1047.89,756.0 L1047.94,759.0 L1048.00,761.6 L1048.10,763.4 L1048.19,767.3 L1048.28,770.8 L1048.36,774.0 L1048.44,776.8 L1048.53,779.3 L1048.63,780.5 L1048.74,782.8 L1048.88,783.4 L1048.98,781.5 L1049.10,782.4 L1049.23,780.3 L1049.37,778.1 L1049.52,776.2 L1049.67,775.2 L1049.83,772.5 L1049.99,768.8 L1050.15,766.5 L1050.32,763.8 L1050.49,761.3 L1050.66,756.9 L1050.83,754.5 L1051.00,750.4 L1051.16,747.2 L1051.32,744.1 L1051.48,741.8 L1051.62,739.5 L1051.76,736.5 L1051.89,733.6 L1052.02,730.9 L1052.15,727.7 L1052.28,724.8 L1052.41,721.9 L1052.54,719.0 L1052.67,715.3 L1052.79,712.6 L1052.92,709.4 L1053.04,707.3 L1053.17,703.6 L1053.30,701.7 L1053.42,698.3 L1053.55,695.5 L1053.67,694.1 L1053.80,691.5 L1053.93,690.2 L1054.05,688.9 L1054.18,689.4 L1054.31,689.6 L1054.52,689.0 L1054.72,690.1 L1054.94,692.1 L1055.15,694.3 L1055.36,697.8 L1055.56,700.3 L1055.76,703.2 L1055.95,707.8 L1056.12,710.6 L1056.21,711.3 L1056.28,714.5 L1056.36,716.2 L1056.43,717.5 L1056.49,720.0 L1056.56,722.7 L1056.62,724.0 L1056.68,726.4 L1056.73,728.5 L1056.79,731.4 L1056.84,734.1 L1056.89,736.8 L1056.94,739.8 L1056.98,741.0 L1057.03,744.0 L1057.07,747.6 L1057.11,750.3 L1057.15,752.7 L1057.19,755.6 L1057.23,757.8 L1057.27,761.7 L1057.30,763.8 L1057.34,766.3 L1057.38,768.7 L1057.41,771.4 L1057.45,775.5 L1057.49,778.1 L1057.52,779.4 L1057.56,782.6 L1057.60,785.4 L1057.64,788.0 L1057.67,790.3 L1057.72,793.7 L1057.76,795.1 L1057.80,797.8 L1057.84,800.7 L1057.89,802.4 L1057.94,804.2 L1058.00,806.8 L1058.06,810.0 L1058.11,813.5 L1058.16,817.1 L1058.21,819.4 L1058.26,822.9 L1058.30,826.1 L1058.35,829.2 L1058.40,833.3 L1058.45,835.5 L1058.50,837.8 L1058.56,840.4 L1058.63,843.7 L1058.71,844.5 L1058.79,847.2 L1058.89,847.5 L1059.00,848.8 L1059.12,849.3 L1059.25,850.9 L1059.43,849.3 L1059.62,848.4 L1059.83,846.5 L1060.05,844.8 L1060.28,843.2 L1060.52,840.3 L1060.77,837.6 L1061.03,834.5 L1061.30,830.5 L1061.58,828.0 L1061.86,823.4 L1062.15,822.0 L1062.44,818.5 L1062.72,815.6 L1063.03,813.9 L1063.35,811.3 L1063.68,807.5 L1064.02,803.9 L1064.37,802.3 L1064.72,799.2 L1065.07,796.2 L1065.41,794.4 L1065.75,790.5 L1066.07,788.7 L1066.38,787.4 L1066.67,786.3 L1066.94,787.3 L1067.21,787.5 L1067.46,787.6 L1067.71,789.3 L1067.94,791.4 L1068.16,794.6 L1068.37,797.5 L1068.58,801.0 L1068.77,803.1 L1068.96,807.4 L1069.13,809.7 L1069.30,812.7 L1069.47,815.5 L1069.62,818.1 L1069.75,821.8 L1069.87,824.5 L1069.97,826.9 L1070.06,828.9 L1070.14,832.0 L1070.22,835.1 L1070.29,838.5 L1070.36,842.3 L1070.42,843.9 L1070.49,847.4 L1070.56,850.1 L1070.63,851.1 L1070.71,853.5 L1070.80,855.5 L1070.89,855.9 L1071.00,856.0 L1071.12,856.5 L1071.24,855.2 L1071.38,853.5 L1071.52,852.0 L1071.66,850.9 L1071.81,848.4 L1071.96,845.9 L1072.11,842.5 L1072.26,838.8 L1072.41,835.8 L1072.56,833.0 L1072.71,830.5 L1072.85,826.2 L1072.99,824.6 L1073.13,821.8 L1073.25,818.6 L1073.35,815.4 L1073.43,814.5 L1073.51,811.3 L1073.57,809.2 L1073.62,806.4 L1073.67,804.0 L1073.72,800.7 L1073.76,799.0 L1073.80,796.2 L1073.85,793.5 L1073.90,790.2 L1073.95,787.1 L1074.02,784.6 L1074.09,781.9 L1074.18,780.6 L1074.28,778.1 L1074.39,775.9 L1074.53,773.9 L1074.68,772.3 L1074.86,770.0 L1075.06,767.8 L1075.49,766.0 L1075.94,762.9 L1076.45,761.7 L1077.04,759.1 L1077.75,758.6 L1078.62,756.1 L1079.61,754.0 L1080.70,753.4 L1081.87,750.3 L1083.12,750.2 L1084.25,748.5 L1085.45,746.0 L1086.71,745.8 L1088.03,744.1 L1089.39,743.5 L1090.78,741.8 L1092.19,740.6 L1093.54,740.8 L1094.98,738.8 L1096.47,739.6 L1097.97,738.1 L1099.46,738.1 L1100.91,737.4 L1102.26,738.2 L1103.50,736.7 L1104.73,736.1 L1105.82,733.9 L1106.83,733.3 L1107.83,731.6 L1108.86,729.2 L1110.00,728.5 L1111.24,727.4 L1112.61,724.8 L1114.03,723.9 L1115.45,721.6 L1116.80,720.5 L1118.03,720.8 L1119.06,721.0 L1119.78,722.2 L1120.36,723.2 L1120.83,726.1 L1121.23,729.6 L1121.56,732.7 L1121.88,735.1 L1122.19,738.3 L1122.54,739.2 L1122.94,740.8 L1123.45,739.3 L1123.93,737.0 L1124.42,735.8 L1124.93,732.0 L1125.51,730.2 L1126.19,726.7 L1126.88,726.4 L1127.68,723.2 L1128.55,721.1 L1129.45,717.6 L1130.35,716.4 L1131.21,714.2 L1132.00,712.8 L1132.69,713.6 L1133.20,712.9 L1133.65,715.4 L1134.04,717.2 L1134.38,721.5 L1134.70,724.8 L1134.99,726.4 L1135.28,730.1 L1135.58,732.5 L1135.90,734.6 L1136.25,735.2 L1136.73,733.9 L1137.21,733.3 L1137.69,729.6 L1138.18,726.7 L1138.68,725.2 L1139.19,721.6 L1139.70,719.4 L1140.20,717.3 L1140.71,714.3 L1141.24,711.7 L1141.82,711.4 L1142.44,709.8 L1143.42,711.3 L1144.48,712.7 L1145.69,715.7 L1147.06,715.4 L1148.57,717.0 L1150.19,716.3 L1151.29,716.3 L1152.46,714.7 L1153.68,712.9 L1154.93,711.1 L1156.18,710.1 L1157.42,708.0 L1158.62,706.5 L1160.00,707.6 L1161.42,707.5 L1162.81,707.5 L1164.07,707.7 L1165.12,706.2 L1166.01,704.9 L1166.67,703.2 L1167.21,701.2 L1167.75,700.3 L1168.29,699.5 L1168.80,702.1 L1169.27,704.2 L1169.69,706.5 L1169.87,707.7 L1170.02,709.6 L1170.15,712.6 L1170.26,715.3 L1170.34,717.8 L1170.41,721.0 L1170.46,724.6 L1170.51,728.2 L1170.55,731.2 L1170.59,733.7 L1170.62,738.2 L1170.66,740.3 L1170.71,744.1 L1170.76,746.7 L1170.83,747.4 L1170.92,750.0 L1171.03,752.0 L1171.16,751.9 L1171.31,752.5 L1171.56,751.6 L1171.84,749.8 L1172.14,748.2 L1172.45,745.6 L1172.78,743.1 L1173.12,740.8 L1173.47,737.8 L1173.83,735.8 L1174.19,733.0 L1174.62,729.8 L1175.09,728.0 L1175.57,724.4 L1176.05,721.5 L1176.54,719.8 L1177.00,717.9 L1177.44,716.8 L1177.76,717.9 L1178.04,719.0 L1178.30,722.6 L1178.54,724.4 L1178.78,729.0 L1179.02,730.9 L1179.28,734.2 L1179.57,738.2 L1179.89,740.1 L1180.26,742.4 L1180.69,742.4 L1181.38,743.3 L1182.17,741.5 L1183.00,739.5 L1183.81,737.6 L1184.56,735.7 L1185.27,732.8 L1185.93,730.1 L1186.55,726.2 L1187.18,724.4 L1187.81,724.3 L1188.48,725.9 L1189.17,726.5 L1189.84,729.5 L1190.48,731.2 L1191.06,734.6 L1191.43,737.7 L1191.75,739.8 L1192.03,743.2 L1192.28,744.8 L1192.52,748.1 L1192.77,750.7 L1193.03,754.1 L1193.34,754.2 L1193.69,756.3 L1194.18,754.5 L1194.73,754.0 L1195.30,751.0 L1195.88,748.0 L1196.43,746.4 L1196.94,742.9 L1197.34,741.3 L1197.69,737.8 L1198.01,736.8 L1198.32,734.7 L1198.66,730.9 L1199.04,729.9 L1199.50,727.1 L1200.26,724.3 L1201.13,722.0 L1202.00,720.6 L1202.75,720.5 L1203.14,721.1 L1203.49,722.4 L1203.80,723.7 L1204.07,726.2 L1204.32,728.0 L1204.55,732.0 L1204.76,734.8 L1204.96,737.4 L1205.17,741.3 L1205.37,742.7 L1205.57,745.0 L1205.73,748.0 L1205.86,751.1 L1205.98,755.0 L1206.10,758.4 L1206.23,760.1 L1206.37,763.2 L1206.54,765.3 L1206.75,766.5 L1207.00,766.7 L1207.41,766.4 L1207.89,763.7 L1208.42,761.2 L1208.94,759.0 L1209.44,755.6 L1209.88,753.9 L1210.19,750.7 L1210.46,749.5 L1210.71,746.0 L1210.94,743.3 L1211.16,741.6 L1211.38,739.1 L1211.62,736.7 L1211.87,735.3 L1212.12,732.0 L1212.31,730.5 L1212.50,728.7 L1212.77,725.9 L1213.18,724.0 L1213.81,723.1 L1214.82,720.7 L1216.15,718.0 L1217.64,716.1 L1219.14,714.8 L1220.50,714.6 L1221.56,714.3 L1222.17,716.2 L1222.63,717.4 L1222.98,719.4 L1223.24,722.3 L1223.44,725.9 L1223.61,727.4 L1223.77,729.9 L1223.95,732.6 L1224.19,734.5 L1224.62,738.3 L1225.03,740.4 L1225.50,740.9 L1225.82,739.9 L1226.17,738.3 L1226.55,736.4 L1226.95,735.2 L1227.36,731.9 L1227.78,727.8 L1228.20,725.5 L1228.61,721.4 L1229.00,719.4 L1229.38,716.8 L1229.81,713.9 L1230.22,712.6 L1230.62,710.2 L1231.03,707.6 L1231.46,704.9 L1231.94,703.9 L1232.58,701.1 L1233.28,699.1 L1233.97,696.2 L1234.56,697.0 L1234.95,696.0 L1235.29,697.8 L1235.58,700.2 L1235.84,702.5 L1236.07,705.2 L1236.29,709.3 L1236.50,712.8 L1236.62,713.4 L1236.72,715.3 L1236.81,718.2 L1236.89,719.8 L1236.96,722.5 L1237.02,725.6 L1237.07,727.8 L1237.11,730.0 L1237.15,732.6 L1237.18,736.2 L1237.21,739.9 L1237.24,742.5 L1237.26,743.8 L1237.28,747.3 L1237.30,750.0 L1237.33,752.0 L1237.35,755.4 L1237.38,757.5 L1237.42,760.3 L1237.45,761.5 L1237.50,764.6 L1237.57,767.4 L1237.62,770.0 L1237.66,772.5 L1237.71,776.0 L1237.77,777.9 L1237.86,781.0 L1237.97,782.4 L1238.12,782.6 L1238.33,782.9 L1238.58,779.8 L1238.86,778.9 L1239.16,776.4 L1239.47,772.1 L1239.79,769.4 L1240.09,765.8 L1240.37,763.9 L1240.58,762.0 L1240.78,758.9 L1240.98,757.0 L1241.17,753.7 L1241.36,751.5 L1241.54,748.0 L1241.73,746.5 L1241.93,742.9 L1242.12,739.6 L1242.33,737.4 L1242.54,736.4 L1242.76,734.9 L1243.00,732.9 L1243.46,729.8 L1243.93,729.3 L1244.38,728.4 L1244.63,728.0 L1244.86,730.4 L1245.06,733.6 L1245.26,735.5 L1245.44,738.9 L1245.63,742.6 L1245.82,746.2 L1246.03,748.2 L1246.25,747.7 L1246.53,748.1 L1246.82,746.1 L1247.11,743.8 L1247.42,740.4 L1247.75,738.3 L1248.12,735.3 L1248.46,733.7 L1248.75,730.8 L1249.06,727.9 L1249.48,726.4 L1250.08,724.4 L1250.94,722.3 L1251.79,721.2 L1252.80,720.4 L1253.95,719.6 L1255.22,718.0 L1256.59,717.4 L1258.03,717.0 L1259.53,716.3 L1261.07,715.4 L1262.62,715.1 L1264.17,713.4 L1265.69,713.2 L1266.96,711.9 L1268.31,711.8 L1269.73,710.7 L1271.20,709.8 L1272.71,708.2 L1274.26,706.6 L1275.81,706.7 L1277.37,704.8 L1278.92,703.5 L1280.45,702.3 L1281.93,701.6 L1283.37,701.3 L1284.74,700.8 L1286.03,699.6 L1287.23,699.7 L1288.33,698.5 L1289.31,698.9 L1290.77,699.1 L1292.00,699.6 L1293.09,700.7 L1294.12,702.7 L1295.19,704.1 L1296.03,704.8 L1296.80,706.9 L1297.51,710.4 L1298.21,712.8 L1298.92,715.4 L1299.68,717.9 L1300.51,720.2 L1301.47,721.1 L1302.56,721.8 L1303.76,722.7 L1305.09,721.8 L1306.53,722.8 L1308.05,720.9 L1309.62,720.0 L1311.22,719.2 L1312.81,717.7 L1314.38,715.7 L1315.89,715.3 L1317.31,714.8 L1318.74,716.6 L1320.17,717.5 L1321.60,718.5 L1323.01,719.9 L1324.38,721.4 L1325.69,723.3 L1326.93,724.8 L1328.08,725.7 L1329.12,725.5 L1330.04,724.7 L1330.85,722.5 L1331.57,720.6 L1332.21,718.2 L1332.79,716.9 L1333.35,712.9 L1333.88,710.2 L1334.43,707.9 L1335.00,706.8 L1335.58,704.2 L1336.12,700.4 L1336.63,698.3 L1337.12,695.4 L1337.61,691.6 L1338.12,688.6 L1338.65,687.6 L1339.23,685.4 L1339.88,684.2 L1340.79,685.8 L1341.80,685.9 L1342.84,687.5 L1343.81,690.1 L1344.62,692.0 L1344.92,692.7 L1345.18,694.8 L1345.40,696.3 L1345.60,697.2 L1345.77,699.6 L1345.92,702.2 L1346.04,703.4 L1346.14,706.2 L1346.22,708.3 L1346.27,709.8 L1346.31,711.9 L1346.34,715.5 L1346.35,717.9 L1346.35,720.0 L1346.33,722.5 L1346.31,726.3 L1346.28,729.2 L1346.24,730.8 L1346.20,734.3 L1346.15,737.1 L1346.11,739.5 L1346.06,741.9 L1346.02,745.3 L1345.98,748.8 L1345.94,751.6 L1345.91,754.3 L1345.89,756.4 L1345.89,759.4 L1345.89,762.3 L1345.91,765.3 L1345.94,767.9 L1345.97,771.1 L1346.00,771.9 L1346.04,775.8 L1346.07,776.8 L1346.10,780.2 L1346.14,781.5 L1346.17,784.4 L1346.20,786.5 L1346.23,788.3 L1346.26,792.0 L1346.30,794.5 L1346.33,796.0 L1346.36,799.3 L1346.39,801.3 L1346.42,804.7 L1346.45,805.5 L1346.48,808.6 L1346.51,810.8 L1346.54,814.0 L1346.58,816.8 L1346.61,819.5 L1346.64,821.5 L1346.67,823.7 L1346.70,827.0 L1346.73,828.3 L1346.76,831.1 L1346.79,834.5 L1346.82,836.5 L1346.85,840.0 L1346.88,840.9 L1346.91,844.1 L1346.94,846.2 L1346.97,848.3 L1347.00,851.0 L1347.03,853.5 L1347.06,856.5 L1347.09,859.1 L1347.13,861.7 L1347.16,863.7 L1347.19,866.9 L1347.22,869.0 L1347.25,872.3 L1347.28,873.2 L1347.31,876.2 L1347.35,878.8 L1347.38,881.2 L1347.41,884.9 L1347.44,886.6 L1347.47,890.7 L1347.51,892.8 L1347.54,895.9 L1347.57,899.5 L1347.60,902.6 L1347.63,905.3 L1347.66,908.2 L1347.69,913.0 L1347.72,915.2 L1347.75,918.0 L1347.78,922.2 L1347.81,925.2 L1347.84,928.0 L1347.87,931.2 L1347.90,935.2 L1347.94,937.3 L1347.97,940.4 L1348.00,944.3 L1348.03,946.0 L1348.06,948.7 L1348.10,950.9 L1348.13,954.3 L1348.17,956.6 L1348.20,958.5 L1348.23,960.5 L1348.27,962.1 L1348.31,964.8 L1348.34,965.8 L1348.38,967.9 L1348.42,968.3 L1348.46,969.9 L1348.50,969.5 L1348.54,970.4 L1348.58,972.1 L1348.62,971.7 L1348.67,971.6 L1348.71,970.9 L1348.76,970.3 L1348.80,969.0 L1348.85,967.9 L1348.89,967.6 L1348.94,966.2 L1348.98,963.9 L1349.03,962.8 L1349.07,960.0 L1349.12,958.8 L1349.17,955.8 L1349.22,954.0 L1349.27,951.2 L1349.32,949.0 L1349.36,945.6 L1349.41,943.4 L1349.47,940.8 L1349.52,936.9 L1349.57,934.2 L1349.62,931.8 L1349.67,928.4 L1349.73,925.3 L1349.78,922.4 L1349.84,918.8 L1349.89,914.9 L1349.95,912.1 L1350.01,909.5 L1350.06,905.8 L1350.12,902.9 L1350.18,899.1 L1350.24,896.1 L1350.30,893.9 L1350.37,890.6 L1350.43,887.4 L1350.49,883.5 L1350.56,881.7 L1350.62,877.9 L1350.69,877.0 L1350.75,874.7 L1350.81,871.8 L1350.87,868.5 L1350.93,867.1 L1350.98,863.4 L1351.04,862.0 L1351.09,858.9 L1351.14,855.4 L1351.20,854.4 L1351.25,851.0 L1351.30,849.1 L1351.35,846.2 L1351.41,843.3 L1351.46,841.3 L1351.51,837.4 L1351.57,836.0 L1351.62,832.4 L1351.68,829.2 L1351.73,827.1 L1351.79,824.0 L1351.85,821.3 L1351.91,819.7 L1351.98,816.2 L1352.04,813.7 L1352.11,811.3 L1352.18,808.7 L1352.25,807.3 L1352.33,804.8 L1352.41,802.2 L1352.49,800.0 L1352.58,796.5 L1352.66,794.7 L1352.76,791.4 L1352.85,790.2 L1352.95,787.7 L1353.06,785.3 L1353.17,782.1 L1353.28,779.7 L1353.40,779.0 L1353.52,776.2 L1353.65,774.2 L1353.78,772.7 L1353.92,769.4 L1354.06,768.5 L1354.29,765.1 L1354.52,762.8 L1354.76,759.3 L1355.00,756.1 L1355.24,754.7 L1355.49,750.8 L1355.75,749.0 L1356.02,746.6 L1356.30,743.1 L1356.59,741.5 L1356.89,738.6 L1357.20,736.1 L1357.53,733.9 L1357.88,733.1 L1358.24,730.1 L1358.62,728.4 L1359.02,726.6 L1359.44,724.0 L1360.15,722.7 L1360.96,720.1 L1361.81,717.8 L1362.67,714.7 L1363.49,712.7 L1364.24,711.9 L1364.88,712.3 L1365.18,712.5 L1365.45,712.7 L1365.68,713.9 L1365.88,714.5 L1366.05,717.5 L1366.19,718.5 L1366.31,720.6 L1366.41,723.4 L1366.49,724.8 L1366.55,728.4 L1366.59,730.5 L1366.62,734.3 L1366.65,736.0 L1366.66,739.4 L1366.67,743.3 L1366.68,746.2 L1366.69,749.3 L1366.70,752.8 L1366.71,755.4 L1366.74,759.0 L1366.77,761.3 L1366.81,765.7 L1366.88,767.7 L1366.92,770.8 L1366.97,772.4 L1367.02,774.7 L1367.06,777.0 L1367.10,778.4 L1367.15,781.9 L1367.19,783.4 L1367.23,786.8 L1367.26,789.1 L1367.30,791.4 L1367.34,794.2 L1367.37,796.1 L1367.40,799.0 L1367.44,802.1 L1367.47,803.4 L1367.50,805.8 L1367.53,809.0 L1367.56,811.9 L1367.59,813.9 L1367.62,816.7 L1367.64,820.5 L1367.67,822.3 L1367.70,824.6 L1367.72,827.3 L1367.75,830.7 L1367.78,832.6 L1367.80,835.8 L1367.83,838.5 L1367.85,841.0 L1367.88,843.7 L1367.90,846.8 L1367.93,847.9 L1367.95,852.0 L1367.98,853.2 L1368.00,855.4 L1368.03,859.1 L1368.05,861.1 L1368.08,863.3 L1368.11,865.1 L1368.13,868.3 L1368.16,869.6 L1368.19,872.5 L1368.22,873.7 L1368.25,876.3 L1368.29,879.5 L1368.34,882.2 L1368.38,885.6 L1368.42,888.2 L1368.45,892.6 L1368.49,896.0 L1368.53,898.4 L1368.56,902.4 L1368.60,905.9 L1368.64,907.8 L1368.68,912.0 L1368.72,914.8 L1368.76,915.9 L1368.80,918.5 L1368.85,920.2 L1368.90,922.3 L1368.95,923.4 L1369.00,925.1 L1369.06,925.3 L1369.13,925.6 L1369.17,925.8 L1369.22,925.2 L1369.27,925.3 L1369.33,924.3 L1369.39,922.1 L1369.44,921.0 L1369.51,919.1 L1369.57,917.9 L1369.63,915.6 L1369.70,914.6 L1369.77,912.5 L1369.84,910.4 L1369.91,906.5 L1369.98,903.5 L1370.05,902.0 L1370.12,898.5 L1370.19,896.5 L1370.27,892.5 L1370.34,889.2 L1370.42,885.6 L1370.49,883.9 L1370.57,879.9 L1370.64,876.5 L1370.71,873.2 L1370.79,870.5 L1370.86,867.3 L1370.93,863.4 L1371.00,859.6 L1371.07,856.8 L1371.14,854.6 L1371.21,850.6 L1371.28,848.1 L1371.34,845.0 L1371.40,842.0 L1371.46,839.5 L1371.52,836.4 L1371.58,834.5 L1371.64,832.8 L1371.69,829.2 L1371.76,827.0 L1371.82,825.2 L1371.88,822.7 L1371.94,818.3 L1371.99,816.9 L1372.04,814.4 L1372.09,812.3 L1372.14,809.3 L1372.19,806.3 L1372.23,804.2 L1372.28,802.6 L1372.33,800.4 L1372.38,797.1 L1372.43,795.6 L1372.49,793.4 L1372.54,791.1 L1372.60,787.7 L1372.67,786.1 L1372.74,783.6 L1372.81,781.8 L1372.89,778.8 L1372.96,776.0 L1373.03,774.4 L1373.10,771.2 L1373.16,769.6 L1373.23,766.1 L1373.30,764.0 L1373.37,762.0 L1373.45,758.2 L1373.54,756.9 L1373.63,753.3 L1373.73,752.5 L1373.84,748.5 L1373.97,747.5 L1374.11,744.7 L1374.26,742.3 L1374.44,740.8 L1374.62,739.1 L1374.94,736.1 L1375.26,732.9 L1375.60,731.2 L1375.99,728.5 L1376.44,727.5 L1376.98,724.4 L1377.62,722.5 L1378.43,720.3 L1379.38,720.0 L1380.40,717.4 L1381.47,716.6 L1382.51,715.4 L1383.50,713.0 L1384.38,711.8 L1385.24,708.7 L1386.09,706.1 L1386.93,703.7 L1387.76,702.5 L1388.57,701.7 L1389.38,699.7 L1390.96,699.9 L1392.38,701.9 L1392.75,702.1 L1393.07,703.5 L1393.33,706.4 L1393.55,708.8 L1393.73,712.6 L1393.86,715.8 L1393.97,718.0 L1394.05,722.1 L1394.11,725.4 L1394.15,728.2 L1394.18,732.3 L1394.21,736.4 L1394.24,738.2 L1394.27,741.2 L1394.31,743.6 L1394.37,744.0 L1394.45,746.6 L1394.56,745.5 L1394.66,745.5 L1394.73,745.4 L1394.76,742.7 L1394.77,741.5 L1394.77,738.7 L1394.76,736.8 L1394.75,733.1 L1394.75,730.3 L1394.76,727.2 L1394.80,723.7 L1394.86,720.4 L1394.96,717.4 L1395.11,714.9 L1395.31,711.4 L1395.56,710.0 L1395.88,706.9 L1396.28,704.7 L1396.75,703.2 L1397.75,702.4 L1398.96,699.5 L1400.29,699.6 L1401.66,697.6 L1402.96,698.7 L1404.12,697.6 L1405.34,698.5 L1406.46,700.1 L1407.52,700.2 L1408.56,701.7 L1409.50,704.6 L1410.41,706.6 L1411.30,709.0 L1412.16,709.8 L1413.00,710.8 L1413.78,709.5 L1414.51,708.2 L1415.21,705.5 L1415.92,703.3 L1416.66,699.9 L1417.44,697.4 L1418.12,696.1 L1418.82,693.1 L1419.55,692.3 L1420.29,689.7 L1421.04,687.2 L1421.79,685.1 L1422.55,684.0 L1423.31,682.5 L1424.46,680.7 L1425.65,678.0 L1426.79,676.7 L1427.75,677.3 L1428.12,676.7 L1428.43,678.8 L1428.70,679.9 L1428.92,681.6 L1429.10,683.4 L1429.24,684.3 L1429.36,687.7 L1429.44,689.9 L1429.51,691.9 L1429.55,696.2 L1429.59,698.6 L1429.61,702.0 L1429.64,704.7 L1429.66,706.9 L1429.69,711.5 L1429.72,713.3 L1429.77,716.5 L1429.84,720.0 L1429.94,722.0 L1430.02,724.8 L1430.11,727.7 L1430.19,729.2 L1430.27,733.0 L1430.34,734.9 L1430.42,738.6 L1430.49,742.0 L1430.57,745.3 L1430.64,747.3 L1430.71,750.8 L1430.78,755.5 L1430.85,757.7 L1430.93,761.0 L1431.00,764.1 L1431.07,767.8 L1431.14,770.9 L1431.21,773.7 L1431.28,776.0 L1431.36,779.0 L1431.43,781.4 L1431.51,783.1 L1431.59,786.6 L1431.67,788.5 L1431.75,789.9 L1431.83,791.6 L1431.92,791.8 L1432.00,793.3 L1432.09,792.8 L1432.19,793.8 L1432.29,793.6 L1432.40,793.3 L1432.50,792.1 L1432.60,790.8 L1432.71,787.9 L1432.81,786.8 L1432.92,784.0 L1433.03,781.2 L1433.14,778.5 L1433.25,776.4 L1433.36,773.4 L1433.48,770.2 L1433.59,766.7 L1433.71,762.5 L1433.84,759.1 L1433.96,756.6 L1434.09,752.7 L1434.23,749.7 L1434.37,746.3 L1434.51,743.4 L1434.65,741.7 L1434.81,738.3 L1434.96,737.1 L1435.12,734.1 L1435.37,732.2 L1435.61,728.6 L1435.85,726.0 L1436.09,723.9 L1436.35,720.9 L1436.62,719.5 L1436.92,717.2 L1437.26,714.3 L1437.64,713.7 L1438.06,710.6 L1438.54,707.5 L1439.09,706.6 L1439.69,702.5 L1440.33,699.7 L1440.98,696.6 L1441.64,694.2 L1442.29,693.1 L1442.91,691.2 L1443.48,690.0 L1444.00,689.1 L1444.57,689.7 L1445.11,692.2 L1445.62,693.0 L1446.09,696.5 L1446.53,699.1 L1446.94,700.7 L1447.09,703.3 L1447.24,703.2 L1447.38,705.9 L1447.51,707.7 L1447.63,709.1 L1447.74,710.6 L1447.84,712.9 L1447.94,713.6 L1448.02,716.3 L1448.10,717.9 L1448.18,720.2 L1448.25,722.1 L1448.31,725.3 L1448.36,727.3 L1448.42,730.1 L1448.46,732.3 L1448.50,734.7 L1448.54,737.8 L1448.58,740.2 L1448.61,742.4 L1448.63,744.6 L1448.66,748.4 L1448.68,750.2 L1448.70,752.5 L1448.72,755.7 L1448.74,759.2 L1448.75,762.5 L1448.77,764.8 L1448.78,767.7 L1448.80,771.1 L1448.82,773.8 L1448.83,776.1 L1448.85,779.0 L1448.87,782.5 L1448.89,784.6 L1448.92,787.2 L1448.94,791.0 L1448.97,794.3 L1449.00,796.2 L1449.04,799.8 L1449.08,803.1 L1449.12,804.5 L1449.16,806.7 L1449.20,809.6 L1449.23,811.7 L1449.26,815.2 L1449.30,817.8 L1449.33,819.4 L1449.36,822.7 L1449.39,825.1 L1449.43,827.0 L1449.46,831.3 L1449.49,832.7 L1449.52,835.5 L1449.55,839.1 L1449.58,841.4 L1449.61,845.3 L1449.64,848.3 L1449.67,852.4 L1449.70,854.6 L1449.73,858.6 L1449.76,861.7 L1449.78,864.6 L1449.81,867.3 L1449.84,870.7 L1449.87,874.3 L1449.89,877.5 L1449.92,881.3 L1449.95,884.4 L1449.98,887.4 L1450.00,891.2 L1450.03,895.3 L1450.06,897.2 L1450.09,900.7 L1450.11,903.5 L1450.14,906.9 L1450.17,910.1 L1450.19,914.0 L1450.22,918.0 L1450.25,920.9 L1450.27,924.6 L1450.30,927.5 L1450.33,930.1 L1450.36,933.2 L1450.38,935.1 L1450.41,938.8 L1450.44,941.5 L1450.47,945.0 L1450.50,946.7 L1450.52,950.3 L1450.55,952.7 L1450.58,955.5 L1450.61,957.9 L1450.64,959.8 L1450.67,963.3 L1450.70,965.8 L1450.73,967.6 L1450.76,968.9 L1450.79,971.8 L1450.82,974.3 L1450.85,976.4 L1450.88,977.7 L1450.92,978.1 L1450.95,981.2 L1450.98,982.2 L1451.01,982.9 L1451.05,985.3 L1451.08,986.2 L1451.12,987.3 L1451.15,987.1 L1451.19,988.4 L1451.22,988.7 L1451.26,989.0 L1451.30,990.2 L1451.34,990.1 L1451.37,989.7 L1451.42,990.0 L1451.46,990.4 L1451.51,989.3 L1451.56,989.4 L1451.60,988.0 L1451.65,987.8 L1451.70,985.0 L1451.74,984.6 L1451.79,983.4 L1451.84,982.2 L1451.89,981.1 L1451.94,978.7 L1451.99,976.6 L1452.04,974.9 L1452.09,972.6 L1452.14,970.7 L1452.19,968.9 L1452.24,964.8 L1452.29,962.9 L1452.34,961.3 L1452.40,957.2 L1452.45,955.8 L1452.50,951.6 L1452.55,949.9 L1452.61,947.2 L1452.66,943.2 L1452.71,940.4 L1452.77,937.1 L1452.82,934.8 L1452.87,931.3 L1452.93,928.3 L1452.98,924.6 L1453.04,921.8 L1453.09,919.2 L1453.15,915.6 L1453.20,912.7 L1453.26,908.1 L1453.31,905.3 L1453.37,901.8 L1453.42,898.5 L1453.48,896.1 L1453.53,891.7 L1453.59,889.2 L1453.65,886.5 L1453.70,883.6 L1453.76,878.9 L1453.81,876.3 L1453.87,873.8 L1453.92,871.6 L1453.98,867.4 L1454.04,865.8 L1454.09,862.3 L1454.15,859.9 L1454.20,858.0 L1454.26,854.0 L1454.31,852.1 L1454.37,849.2 L1454.43,846.5 L1454.48,844.2 L1454.52,842.2 L1454.57,839.3 L1454.61,835.7 L1454.65,834.2 L1454.69,830.9 L1454.72,827.5 L1454.75,825.9 L1454.78,823.1 L1454.81,819.3 L1454.84,817.8 L1454.87,814.7 L1454.90,810.9 L1454.93,807.7 L1454.96,806.5 L1454.99,803.6 L1455.02,799.5 L1455.05,798.0 L1455.08,795.3 L1455.12,792.3 L1455.15,790.0 L1455.19,787.6 L1455.24,783.8 L1455.28,782.1 L1455.33,779.6 L1455.38,776.0 L1455.44,774.2 L1455.50,771.7 L1455.56,769.6 L1455.63,766.7 L1455.70,763.8 L1455.78,761.5 L1455.87,759.7 L1455.96,756.8 L1456.05,756.0 L1456.16,754.0 L1456.27,750.8 L1456.38,749.7 L1456.51,747.7 L1456.64,744.9 L1456.78,744.4 L1456.93,742.7 L1457.08,740.3 L1457.25,738.4 L1457.66,735.6 L1458.11,733.7 L1458.59,730.7 L1459.10,729.1 L1459.62,725.8 L1460.15,723.7 L1460.68,722.1 L1461.19,720.9 L1461.69,717.3 L1462.14,714.8 L1462.59,713.7 L1463.04,710.2 L1463.48,708.9 L1463.92,705.4 L1464.36,703.4 L1464.80,701.7 L1465.24,699.7 L1465.68,696.5 L1466.12,694.2 L1466.57,691.1 L1467.02,689.2 L1467.48,686.6 L1467.94,685.1 L1468.39,682.5 L1468.84,680.2 L1469.29,677.4 L1469.72,675.4 L1470.15,672.1 L1470.56,670.5 L1471.02,667.6 L1471.40,664.8 L1471.76,663.0 L1472.18,659.7 L1472.74,657.8 L1473.50,656.1 L1474.75,656.0 L1476.24,655.1 L1477.83,654.5 L1479.38,654.0" stroke="#05ABEF" stroke-width="5.3"/><path d="M92.94,1004.3 L94.44,1004.5 L95.94,1003.8 L97.44,1004.2 L98.93,1004.9 L100.42,1004.0 L101.90,1004.3 L103.39,1004.2 L104.88,1005.1 L106.37,1005.8 L107.87,1004.9 L109.37,1005.6 L110.88,1006.8 L112.41,1006.0 L113.94,1006.0 L115.49,1007.0 L117.05,1007.3 L118.62,1006.5 L120.11,1006.2 L121.60,1007.2 L123.10,1007.5 L124.61,1008.0 L126.13,1007.6 L127.65,1007.1 L129.18,1007.6 L130.71,1007.2 L132.26,1007.6 L133.81,1007.8 L135.37,1008.6 L136.94,1008.7 L138.52,1008.8 L140.11,1008.1 L141.70,1009.0 L143.30,1007.6 L144.92,1009.1 L146.54,1008.6 L148.17,1009.1 L149.81,1008.3 L151.29,1009.4 L152.79,1007.7 L154.29,1009.3 L155.82,1009.2 L157.35,1008.5 L158.89,1009.3 L160.45,1008.3 L162.01,1009.3 L163.58,1008.8 L165.16,1008.7 L166.74,1008.3 L168.32,1009.4 L169.91,1009.3 L171.50,1008.2 L173.09,1009.8 L174.68,1008.4 L176.26,1008.6 L177.85,1008.7 L179.43,1009.0 L181.00,1009.5 L182.57,1009.6 L184.13,1008.9 L185.68,1008.4 L187.22,1007.9 L188.75,1007.7 L190.37,1008.4 L192.02,1008.4 L193.72,1007.9 L195.45,1008.6 L197.20,1007.3 L198.96,1006.9 L200.74,1006.7 L202.52,1005.9 L204.29,1006.9 L206.05,1006.0 L207.79,1005.5 L209.50,1005.0 L211.18,1004.4 L212.82,1004.3 L214.41,1004.4 L215.95,1004.1 L217.42,1004.9 L218.82,1004.1 L220.15,1003.4 L221.40,1003.2 L222.55,1003.5 L223.61,1004.1 L224.56,1005.2 L226.12,1006.4 L227.25,1006.5 L228.22,1008.9 L229.31,1009.7 L230.81,1011.1 L231.80,1011.6 L232.89,1011.1 L234.09,1011.6 L235.38,1013.0 L236.75,1013.4 L238.19,1013.1 L239.70,1014.4 L241.25,1014.4 L242.85,1013.7 L244.48,1013.5 L246.13,1014.6 L247.78,1015.0 L249.44,1014.4 L251.09,1014.2 L252.71,1015.2 L254.31,1014.5 L255.87,1016.0 L257.37,1015.9 L258.81,1015.5 L260.44,1016.0 L262.07,1015.8 L263.70,1015.9 L265.32,1016.0 L266.94,1017.3 L268.55,1016.8 L270.14,1017.4 L271.72,1016.8 L273.29,1017.8 L274.84,1017.5 L276.36,1017.8 L277.86,1017.5 L279.33,1018.0 L280.78,1017.6 L282.19,1019.3 L283.72,1019.1 L285.18,1019.2 L286.60,1019.9 L287.97,1019.4 L289.33,1020.3 L290.68,1020.7 L292.03,1022.3 L293.40,1021.3 L294.80,1022.5 L296.24,1023.7 L297.75,1023.9 L299.21,1024.1 L300.74,1023.5 L302.33,1023.4 L303.96,1024.3 L305.61,1023.6 L307.29,1024.4 L308.96,1023.8 L310.62,1024.5 L312.26,1024.3 L313.85,1024.9 L315.39,1025.4 L316.87,1024.6 L318.26,1026.2 L319.56,1025.0 L320.99,1027.5 L322.29,1027.0 L323.51,1029.1 L324.66,1030.1 L325.77,1032.2 L326.88,1032.7 L328.01,1033.9 L329.19,1036.3 L330.44,1037.2 L331.63,1038.7 L332.85,1039.4 L334.09,1039.8 L335.34,1042.4 L336.61,1042.6 L337.89,1044.2 L339.19,1044.6 L340.50,1046.2 L341.83,1048.0 L343.16,1049.1 L344.50,1049.8 L345.85,1050.4 L347.21,1051.7 L348.57,1052.3 L349.95,1052.2 L351.34,1053.5 L352.75,1054.2 L354.17,1055.0 L355.61,1054.6 L357.07,1055.3 L358.55,1055.9 L360.06,1055.9 L361.53,1056.7 L363.02,1057.8 L364.55,1057.8 L366.10,1057.4 L367.67,1058.6 L369.26,1057.7 L370.85,1059.1 L372.45,1058.1 L374.05,1058.2 L375.64,1058.5 L377.21,1059.0 L378.77,1058.6 L380.31,1059.7 L381.77,1059.7 L383.21,1058.5 L384.64,1059.2 L386.06,1058.9 L387.47,1058.5 L388.88,1057.7 L390.29,1058.7 L391.71,1058.4 L393.14,1056.4 L394.58,1056.6 L396.03,1056.3 L397.50,1055.7 L399.00,1055.7 L400.40,1056.1 L401.82,1054.1 L403.27,1055.0 L404.73,1053.6 L406.21,1052.4 L407.70,1053.4 L409.19,1051.7 L410.69,1051.0 L412.19,1050.2 L413.68,1050.0 L415.17,1049.0 L416.65,1048.5 L418.11,1048.1 L419.55,1048.1 L420.98,1047.4 L422.37,1046.7 L423.91,1046.7 L425.48,1046.7 L427.08,1046.1 L428.69,1044.9 L430.29,1045.5 L431.87,1044.8 L433.41,1044.0 L434.91,1043.5 L436.33,1043.0 L437.67,1042.5 L438.92,1043.7 L440.05,1043.3 L441.06,1042.6 L442.42,1044.8 L443.46,1045.7 L444.46,1045.3 L445.69,1047.5 L446.90,1047.2 L448.21,1048.3 L449.60,1049.3 L451.09,1048.9 L452.68,1049.5 L454.38,1050.0 L456.19,1049.2 L457.36,1050.0 L458.65,1049.5 L460.02,1050.2 L461.47,1048.5 L463.00,1049.0 L464.57,1047.4 L466.19,1047.3 L467.83,1046.5 L469.50,1046.0 L471.16,1046.2 L472.82,1045.0 L474.46,1045.7 L476.06,1043.9 L477.61,1044.5 L479.11,1044.6 L480.53,1043.0 L481.87,1043.0 L483.12,1043.9 L484.25,1043.4 L485.82,1044.6 L487.17,1044.2 L488.39,1045.0 L489.56,1046.9 L490.75,1046.5 L492.06,1048.3 L493.56,1048.5 L494.73,1047.3 L495.94,1047.9 L497.19,1048.5 L498.49,1046.8 L499.83,1047.9 L501.21,1047.4 L502.64,1047.0 L504.10,1046.3 L505.60,1045.0 L507.14,1046.1 L508.72,1044.1 L510.33,1045.0 L511.98,1044.5 L513.66,1043.4 L515.38,1043.8 L516.66,1043.2 L517.98,1043.6 L519.33,1042.2 L520.72,1043.7 L522.14,1042.6 L523.59,1043.2 L525.07,1042.5 L526.57,1043.0 L528.10,1042.0 L529.65,1042.3 L531.22,1041.3 L532.80,1042.1 L534.40,1041.2 L536.02,1042.6 L537.65,1042.1 L539.28,1041.6 L540.93,1042.5 L542.58,1042.4 L544.23,1042.3 L545.89,1040.7 L547.54,1041.7 L549.20,1041.7 L550.85,1041.4 L552.49,1040.3 L554.13,1041.8 L555.76,1040.9 L557.37,1041.1 L558.97,1041.4 L560.56,1040.3 L562.12,1039.8 L563.69,1041.3 L565.28,1040.0 L566.88,1039.5 L568.49,1039.6 L570.12,1041.1 L571.76,1040.6 L573.40,1039.6 L575.05,1039.5 L576.71,1040.8 L578.37,1040.4 L580.02,1040.2 L581.68,1039.4 L583.33,1039.8 L584.98,1040.8 L586.61,1039.0 L588.24,1039.7 L589.85,1039.0 L591.45,1040.6 L593.04,1038.9 L594.60,1040.3 L596.15,1040.0 L597.67,1039.7 L599.17,1038.3 L600.65,1039.3 L602.09,1038.7 L603.50,1038.5 L604.88,1037.6 L606.23,1038.0 L607.54,1038.2 L608.81,1036.6 L610.55,1037.4 L612.24,1035.9 L613.89,1034.8 L615.50,1033.9 L617.08,1033.3 L618.61,1032.7 L620.10,1031.5 L621.56,1031.2 L622.97,1029.5 L624.34,1028.7 L625.68,1028.8 L626.97,1026.7 L628.23,1025.8 L629.45,1026.0 L630.62,1025.8 L632.14,1025.5 L633.50,1026.3 L634.77,1026.1 L636.00,1028.4 L637.25,1028.2 L638.56,1029.5 L640.00,1029.7 L641.37,1030.0 L642.77,1030.3 L644.20,1029.8 L645.68,1030.8 L647.19,1030.0 L648.76,1030.8 L650.37,1031.0 L652.04,1031.5 L653.77,1030.5 L655.56,1030.8 L656.88,1031.7 L658.24,1031.6 L659.64,1031.9 L661.08,1030.3 L662.56,1030.4 L664.07,1030.1 L665.61,1031.1 L667.17,1031.0 L668.76,1030.6 L670.36,1030.7 L671.98,1030.1 L673.62,1030.0 L675.26,1030.5 L676.90,1029.8 L678.55,1029.6 L680.20,1029.3 L681.84,1029.0 L683.47,1029.3 L685.08,1028.9 L686.69,1027.9 L688.23,1028.3 L689.80,1028.2 L691.41,1028.1 L693.04,1028.1 L694.70,1027.6 L696.37,1027.5 L698.05,1027.4 L699.74,1027.1 L701.42,1028.0 L703.10,1026.3 L704.77,1026.0 L706.42,1027.1 L708.06,1026.3 L709.66,1026.3 L711.24,1026.4 L712.78,1025.9 L714.27,1025.6 L715.72,1025.2 L717.12,1026.7 L718.46,1026.8 L719.73,1025.7 L720.94,1026.0 L722.59,1026.0 L724.11,1025.8 L725.52,1027.6 L726.85,1027.9 L728.13,1027.2 L729.40,1027.6 L730.69,1028.7 L732.02,1029.1 L733.44,1028.5 L734.78,1028.3 L736.14,1027.9 L737.51,1028.6 L738.89,1028.4 L740.28,1028.1 L741.69,1026.3 L743.12,1026.7 L744.56,1027.0 L746.02,1026.1 L747.50,1025.2 L749.00,1024.3 L750.35,1023.8 L751.71,1024.6 L753.07,1023.1 L754.43,1024.0 L755.81,1023.4 L757.21,1022.6 L758.62,1023.0 L760.05,1022.7 L761.51,1021.8 L762.99,1020.5 L764.50,1021.0 L766.05,1020.4 L767.63,1019.7 L769.25,1020.7 L770.63,1020.1 L772.08,1018.7 L773.57,1018.7 L775.12,1018.6 L776.70,1018.7 L778.32,1018.0 L779.97,1017.9 L781.64,1018.3 L783.32,1017.0 L785.01,1017.7 L786.70,1016.8 L788.38,1017.7 L790.06,1017.5 L791.71,1016.2 L793.34,1016.6 L794.94,1015.7 L796.50,1016.2 L798.02,1016.5 L799.48,1016.6 L800.89,1016.2 L802.23,1015.8 L803.50,1016.2 L805.13,1017.5 L806.68,1017.4 L808.15,1018.4 L809.56,1019.8 L810.92,1021.2 L812.24,1021.4 L813.53,1021.8 L814.81,1023.3 L816.09,1023.4 L817.38,1025.0 L818.69,1024.3 L820.26,1024.8 L821.78,1025.4 L823.26,1026.4 L824.74,1025.1 L826.24,1025.1 L827.78,1024.8 L829.40,1024.7 L831.12,1024.6 L832.39,1024.4 L833.71,1024.6 L835.07,1023.4 L836.47,1022.9 L837.90,1022.0 L839.36,1021.9 L840.84,1021.4 L842.35,1019.7 L843.87,1019.8 L845.40,1017.8 L846.93,1018.3 L848.46,1016.8 L849.99,1016.5 L851.51,1015.4 L853.02,1014.8 L854.50,1014.2 L856.05,1015.4 L857.62,1014.3 L859.19,1014.9 L860.78,1014.5 L862.37,1014.8 L863.95,1014.3 L865.54,1014.5 L867.13,1015.0 L868.70,1015.9 L870.27,1016.0 L871.83,1015.3 L873.37,1016.9 L874.89,1016.7 L876.40,1016.3 L877.87,1017.0 L879.37,1017.2 L880.83,1018.7 L882.26,1018.7 L883.66,1018.7 L885.05,1019.1 L886.43,1019.7 L887.81,1020.2 L889.20,1020.7 L890.60,1022.0 L892.03,1022.3 L893.50,1022.5 L895.01,1023.0 L896.56,1022.7 L897.90,1021.7 L899.27,1021.5 L900.66,1021.5 L902.07,1021.5 L903.50,1021.7 L904.95,1021.9 L906.41,1021.1 L907.89,1020.5 L909.39,1019.7 L910.89,1020.6 L912.41,1019.8 L913.93,1018.6 L915.45,1017.6 L916.98,1018.8 L918.52,1017.1 L920.05,1017.7 L921.58,1016.0 L923.10,1016.7 L924.62,1015.8 L926.15,1016.5 L927.70,1015.2 L929.28,1014.5 L930.87,1014.4 L932.47,1015.3 L934.09,1015.3 L935.71,1014.4 L937.33,1014.2 L938.95,1013.2 L940.57,1013.0 L942.18,1012.4 L943.79,1013.8 L945.37,1011.9 L946.94,1012.8 L948.48,1012.1 L950.00,1011.7 L951.49,1012.0 L952.95,1012.8 L954.37,1011.5 L955.75,1011.3 L957.51,1012.2 L959.27,1012.4 L961.02,1012.5 L962.75,1012.3 L964.45,1013.9 L966.10,1013.0 L967.69,1013.4 L969.22,1013.8 L970.67,1014.4 L972.03,1014.3 L973.29,1014.2 L974.44,1014.0 L975.78,1013.0 L976.89,1010.2 L977.86,1007.2 L978.76,1006.5 L979.67,1003.5 L980.69,1003.4 L981.78,1003.4 L982.88,1005.4 L984.00,1007.4 L985.14,1008.1 L986.30,1010.3 L987.50,1012.9 L988.69,1013.9 L989.98,1014.0 L991.31,1016.2 L992.62,1017.5 L993.86,1018.1 L994.96,1019.0 L995.88,1021.5 L996.61,1022.7 L997.13,1024.4 L997.52,1026.6 L997.84,1029.3 L998.19,1031.2 L998.62,1034.3 L998.98,1036.5 L999.34,1038.6 L999.71,1040.5 L1000.10,1043.5 L1000.49,1044.6 L1000.89,1047.5 L1001.30,1051.2 L1001.71,1053.6 L1002.12,1056.3 L1002.54,1058.6 L1002.96,1060.7 L1003.37,1063.7 L1003.78,1065.7 L1004.19,1067.3 L1004.60,1070.0 L1005.01,1072.2 L1005.41,1076.2 L1005.81,1077.7 L1006.21,1080.4 L1006.62,1083.2 L1007.03,1084.9 L1007.44,1088.4 L1007.87,1091.0 L1008.31,1093.3 L1008.77,1095.7 L1009.25,1096.8 L1009.75,1098.5 L1010.41,1101.8 L1011.12,1103.6 L1011.88,1104.9 L1012.64,1106.6 L1013.39,1108.0 L1014.10,1111.1 L1014.75,1112.4 L1015.31,1115.3 L1015.70,1116.4 L1016.04,1118.4 L1016.33,1120.9 L1016.58,1123.6 L1016.80,1126.1 L1016.99,1127.5 L1017.16,1130.5 L1017.32,1132.5 L1017.47,1135.9 L1017.62,1138.3 L1017.78,1140.6 L1017.94,1142.9 L1018.12,1145.5 L1018.26,1148.7 L1018.39,1150.8 L1018.52,1152.2 L1018.63,1154.2 L1018.73,1156.8 L1018.84,1160.7 L1018.93,1161.6 L1019.03,1165.5 L1019.12,1167.7 L1019.21,1170.3 L1019.30,1172.9 L1019.40,1175.3 L1019.50,1178.2 L1019.60,1180.0 L1019.71,1184.1 L1019.82,1185.1 L1019.95,1187.7 L1020.08,1191.0 L1020.23,1193.3 L1020.38,1195.9 L1020.55,1197.9 L1020.74,1200.4 L1020.94,1200.8 L1021.24,1203.5 L1021.54,1206.8 L1021.86,1210.8 L1022.19,1212.6 L1022.54,1216.1 L1022.91,1219.1 L1023.29,1220.4 L1023.70,1223.0 L1024.13,1225.3 L1024.58,1226.1 L1025.06,1225.9 L1025.84,1225.7 L1026.69,1224.0 L1027.58,1223.1 L1028.45,1220.3 L1029.25,1217.5 L1029.68,1215.2 L1030.08,1214.2 L1030.46,1211.7 L1030.82,1210.0 L1031.17,1206.9 L1031.51,1205.4 L1031.83,1202.5 L1032.15,1199.5 L1032.46,1197.0 L1032.78,1194.8 L1033.10,1191.6 L1033.42,1189.8 L1033.75,1185.5 L1034.09,1184.6 L1034.44,1181.9 L1034.81,1179.3 L1035.25,1177.4 L1035.70,1173.3 L1036.15,1170.7 L1036.62,1168.5 L1037.09,1165.7 L1037.56,1162.1 L1038.03,1160.6 L1038.51,1157.7 L1038.98,1154.6 L1039.45,1153.3 L1039.92,1152.2 L1040.37,1152.7 L1040.99,1152.8 L1041.62,1154.1 L1042.24,1156.5 L1042.86,1158.5 L1043.46,1162.9 L1044.03,1165.8 L1044.56,1168.3 L1044.86,1169.9 L1045.14,1171.5 L1045.41,1174.0 L1045.66,1175.5 L1045.90,1178.8 L1046.13,1180.9 L1046.34,1182.7 L1046.55,1185.2 L1046.76,1186.2 L1046.96,1188.7 L1047.15,1191.6 L1047.35,1193.7 L1047.54,1196.8 L1047.73,1200.4 L1047.92,1202.7 L1048.12,1205.5 L1048.32,1206.9 L1048.53,1209.5 L1048.75,1211.8 L1048.92,1214.4 L1049.09,1216.2 L1049.26,1219.4 L1049.42,1221.3 L1049.59,1224.4 L1049.75,1226.6 L1049.91,1229.2 L1050.07,1231.2 L1050.23,1234.5 L1050.39,1237.1 L1050.55,1239.7 L1050.71,1241.9 L1050.87,1244.6 L1051.03,1246.9 L1051.20,1249.2 L1051.36,1252.6 L1051.52,1255.5 L1051.69,1257.4 L1051.86,1261.3 L1052.03,1263.9 L1052.20,1266.4 L1052.37,1268.9 L1052.55,1270.8 L1052.73,1272.7 L1052.91,1275.3 L1053.10,1278.5 L1053.29,1281.2 L1053.49,1281.9 L1053.69,1283.9 L1053.89,1286.5 L1054.10,1288.5 L1054.31,1290.9 L1054.65,1292.9 L1055.01,1297.3 L1055.38,1299.5 L1055.75,1303.6 L1056.13,1305.6 L1056.52,1308.5 L1056.91,1311.0 L1057.30,1314.9 L1057.69,1316.3 L1058.08,1318.6 L1058.46,1318.5 L1058.83,1320.3 L1059.19,1320.9 L1059.64,1320.9 L1060.09,1319.5 L1060.54,1316.1 L1060.98,1314.0 L1061.42,1312.2 L1061.85,1308.3 L1062.27,1305.8 L1062.69,1301.4 L1062.91,1299.2 L1063.14,1298.9 L1063.35,1295.7 L1063.56,1294.1 L1063.77,1291.5 L1063.98,1289.6 L1064.18,1287.9 L1064.38,1285.4 L1064.58,1282.8 L1064.78,1279.1 L1064.98,1277.5 L1065.17,1273.3 L1065.37,1271.4 L1065.56,1269.6 L1065.75,1265.6 L1065.95,1263.0 L1066.15,1260.7 L1066.34,1257.3 L1066.54,1255.4 L1066.74,1252.7 L1066.95,1249.0 L1067.16,1247.9 L1067.37,1243.8 L1067.58,1242.4 L1067.80,1239.3 L1068.02,1236.6 L1068.25,1234.2 L1068.52,1233.3 L1068.80,1230.4 L1069.08,1227.3 L1069.37,1225.4 L1069.67,1223.2 L1069.96,1220.7 L1070.26,1217.6 L1070.56,1214.7 L1070.86,1212.8 L1071.16,1211.3 L1071.47,1208.5 L1071.77,1206.1 L1072.07,1204.2 L1072.37,1201.2 L1072.67,1199.2 L1072.96,1197.5 L1073.25,1194.2 L1073.53,1193.2 L1073.81,1189.5 L1074.14,1187.9 L1074.45,1185.4 L1074.74,1182.1 L1075.03,1181.1 L1075.31,1177.8 L1075.59,1174.9 L1075.88,1173.0 L1076.18,1170.9 L1076.49,1168.3 L1076.83,1165.3 L1077.19,1163.1 L1077.58,1162.0 L1078.00,1158.6 L1078.48,1156.5 L1079.00,1155.1 L1079.55,1152.8 L1080.13,1150.4 L1080.73,1146.7 L1081.34,1144.1 L1081.96,1143.1 L1082.58,1140.6 L1083.19,1138.0 L1083.79,1135.4 L1084.38,1134.2 L1084.94,1132.0 L1085.65,1130.2 L1086.35,1128.5 L1087.03,1124.7 L1087.72,1122.5 L1088.41,1122.3 L1089.12,1120.7 L1089.93,1121.8 L1090.73,1124.3 L1091.55,1127.9 L1092.41,1129.0 L1093.31,1130.0 L1094.17,1129.9 L1095.06,1128.2 L1095.98,1126.9 L1096.93,1125.5 L1097.90,1122.8 L1098.88,1121.9 L1099.86,1119.3 L1100.90,1117.7 L1101.97,1117.1 L1103.03,1115.2 L1104.05,1114.5 L1104.99,1111.3 L1105.81,1110.7 L1106.57,1108.2 L1107.19,1104.8 L1107.72,1101.5 L1108.22,1099.8 L1108.73,1098.1 L1109.31,1096.9 L1109.99,1097.3 L1110.71,1099.0 L1111.43,1100.9 L1112.12,1103.0 L1112.75,1105.2 L1113.03,1107.2 L1113.27,1109.1 L1113.48,1111.7 L1113.67,1114.1 L1113.83,1115.6 L1113.97,1117.7 L1114.09,1120.2 L1114.20,1123.6 L1114.31,1126.6 L1114.41,1128.6 L1114.51,1132.3 L1114.61,1135.7 L1114.72,1137.5 L1114.84,1141.3 L1114.98,1143.1 L1115.13,1146.1 L1115.31,1149.0 L1115.52,1150.1 L1115.76,1152.6 L1116.03,1155.7 L1116.34,1155.7 L1116.69,1157.7 L1117.56,1160.2 L1118.56,1162.2 L1119.61,1163.3 L1120.64,1165.4 L1121.56,1167.2 L1121.95,1167.5 L1122.31,1169.3 L1122.64,1171.2 L1122.94,1174.1 L1123.22,1175.7 L1123.49,1179.1 L1123.73,1181.9 L1123.97,1183.9 L1124.19,1187.9 L1124.41,1190.0 L1124.62,1193.9 L1124.83,1195.8 L1125.04,1199.2 L1125.25,1202.0 L1125.47,1204.3 L1125.70,1208.0 L1125.94,1209.3 L1126.20,1212.2 L1126.48,1214.8 L1126.77,1218.0 L1127.09,1219.3 L1127.44,1220.2 L1127.81,1222.2 L1128.56,1225.3 L1129.38,1228.1 L1130.23,1228.9 L1131.09,1231.7 L1131.92,1232.1 L1132.69,1232.6 L1133.47,1231.8 L1134.21,1230.2 L1134.93,1228.9 L1135.61,1226.0 L1136.26,1223.0 L1136.88,1219.7 L1137.21,1217.8 L1137.51,1214.6 L1137.76,1212.1 L1137.99,1211.1 L1138.19,1208.2 L1138.38,1205.4 L1138.56,1202.1 L1138.74,1199.2 L1138.92,1197.6 L1139.13,1194.2 L1139.35,1190.6 L1139.60,1188.6 L1139.89,1186.2 L1140.23,1183.4 L1140.62,1183.0 L1141.06,1181.0 L1141.79,1178.5 L1142.59,1174.7 L1143.44,1173.3 L1144.34,1170.8 L1145.30,1170.4 L1146.29,1169.3 L1147.31,1168.5 L1148.65,1168.6 L1150.10,1168.4 L1151.59,1169.5 L1153.02,1170.7 L1154.31,1172.0 L1155.26,1171.1 L1156.13,1169.2 L1156.94,1166.9 L1157.70,1165.9 L1158.43,1162.3 L1159.15,1160.2 L1159.88,1157.1 L1160.39,1157.0 L1160.89,1153.9 L1161.39,1152.3 L1161.86,1150.0 L1162.33,1147.1 L1162.79,1145.3 L1163.25,1142.3 L1163.70,1140.0 L1164.14,1137.4 L1164.58,1133.2 L1165.03,1131.8 L1165.47,1128.4 L1165.91,1126.2 L1166.36,1124.1 L1166.81,1123.2 L1167.43,1118.7 L1168.06,1116.4 L1168.69,1112.9 L1169.32,1111.6 L1169.94,1108.2 L1170.54,1106.6 L1171.13,1105.0 L1171.69,1105.0 L1172.24,1104.7 L1172.77,1106.1 L1173.29,1108.7 L1173.79,1111.0 L1174.27,1114.1 L1174.74,1115.9 L1175.19,1119.6 L1175.45,1121.3 L1175.70,1123.0 L1175.91,1124.9 L1176.11,1127.6 L1176.30,1129.2 L1176.47,1131.9 L1176.63,1135.0 L1176.80,1137.4 L1176.96,1140.0 L1177.12,1144.0 L1177.29,1146.8 L1177.47,1149.4 L1177.67,1151.3 L1177.89,1154.7 L1178.13,1157.4 L1178.39,1159.3 L1178.68,1160.6 L1179.01,1163.1 L1179.38,1164.5 L1180.09,1166.6 L1180.90,1168.2 L1181.75,1171.0 L1182.62,1172.1 L1183.47,1174.4 L1184.25,1175.2 L1184.71,1177.1 L1185.14,1179.5 L1185.54,1180.9 L1185.93,1183.7 L1186.30,1186.6 L1186.67,1189.1 L1187.02,1192.5 L1187.37,1194.6 L1187.72,1197.4 L1188.08,1200.0 L1188.44,1203.0 L1188.81,1204.8 L1189.20,1206.5 L1189.61,1210.6 L1190.04,1212.3 L1190.50,1213.0 L1191.24,1215.8 L1192.04,1218.8 L1192.86,1222.4 L1193.70,1223.9 L1194.52,1225.7 L1195.32,1227.8 L1196.06,1227.3 L1196.67,1227.3 L1197.26,1226.3 L1197.83,1224.1 L1198.38,1221.5 L1198.91,1219.3 L1199.43,1216.4 L1199.94,1213.6 L1200.44,1210.8 L1200.94,1207.8 L1201.27,1205.8 L1201.59,1203.2 L1201.90,1202.5 L1202.20,1200.0 L1202.49,1197.1 L1202.77,1193.7 L1203.05,1191.6 L1203.33,1190.2 L1203.60,1186.8 L1203.87,1183.7 L1204.14,1182.2 L1204.41,1179.8 L1204.69,1175.9 L1204.97,1174.2 L1205.26,1171.9 L1205.55,1168.9 L1205.86,1167.1 L1206.17,1165.6 L1206.50,1163.9 L1206.99,1161.2 L1207.47,1158.5 L1207.96,1155.5 L1208.45,1152.5 L1208.97,1150.2 L1209.52,1149.9 L1210.11,1148.7 L1210.75,1148.0 L1211.93,1146.7 L1213.19,1149.1 L1214.37,1149.6 L1215.17,1151.6 L1215.92,1153.6 L1216.62,1157.0 L1217.29,1158.7 L1217.94,1159.4 L1218.69,1157.7 L1219.39,1156.6 L1220.05,1152.6 L1220.69,1150.3 L1221.06,1148.5 L1221.36,1145.3 L1221.62,1142.9 L1221.86,1139.6 L1222.12,1138.1 L1222.41,1134.3 L1222.78,1131.7 L1223.23,1129.8 L1223.81,1128.8 L1224.91,1127.0 L1226.20,1125.6 L1227.53,1125.3 L1228.75,1124.0 L1229.76,1121.8 L1230.74,1121.3 L1231.62,1119.4 L1232.38,1117.9 L1232.83,1115.8 L1233.07,1113.3 L1233.20,1111.1 L1233.35,1109.4 L1233.64,1106.5 L1234.19,1103.3 L1235.01,1101.5 L1236.07,1100.2 L1237.24,1098.1 L1238.44,1095.7 L1239.56,1094.8 L1240.50,1095.5 L1241.20,1096.6 L1241.80,1097.8 L1242.33,1101.9 L1242.81,1104.0 L1243.25,1107.3 L1243.68,1109.1 L1244.12,1109.5 L1244.46,1110.1 L1244.75,1107.8 L1244.99,1106.0 L1245.22,1103.7 L1245.43,1101.4 L1245.64,1098.6 L1245.87,1094.9 L1246.12,1091.3 L1246.42,1088.5 L1246.77,1085.5 L1247.19,1083.7 L1247.69,1081.7 L1248.59,1079.1 L1249.60,1076.2 L1250.71,1075.2 L1251.89,1073.5 L1253.12,1071.8 L1254.50,1071.7 L1256.02,1069.9 L1257.57,1070.1 L1259.04,1069.0 L1260.31,1067.9 L1261.41,1067.2 L1262.37,1066.0 L1263.21,1065.0 L1263.94,1063.1 L1264.33,1061.0 L1264.58,1057.9 L1264.75,1056.2 L1264.85,1053.3 L1264.93,1051.4 L1265.02,1048.0 L1265.17,1045.4 L1265.40,1042.8 L1265.75,1041.9 L1266.53,1040.0 L1267.44,1038.1 L1268.44,1037.0 L1269.66,1038.4 L1270.97,1039.3 L1272.06,1040.0 L1272.57,1039.4 L1272.84,1037.2 L1273.04,1035.0 L1273.31,1032.6 L1273.81,1030.3 L1274.77,1028.2 L1275.95,1026.8 L1277.21,1026.5 L1278.38,1025.5 L1279.10,1022.7 L1279.79,1020.9 L1280.45,1018.8 L1281.10,1017.4 L1281.74,1014.7 L1282.40,1013.1 L1283.06,1009.7 L1283.75,1008.1 L1284.64,1006.2 L1285.55,1004.4 L1286.47,1002.6 L1287.38,1001.2 L1288.25,1001.7 L1289.20,1001.4 L1290.13,1003.3 L1291.03,1006.1 L1291.88,1007.7 L1292.52,1009.5 L1293.10,1012.1 L1293.64,1013.6 L1294.20,1015.4 L1294.80,1019.3 L1295.50,1020.5 L1296.34,1022.2 L1297.27,1022.6 L1298.23,1025.1 L1299.16,1025.8 L1300.00,1027.9 L1300.69,1028.9 L1301.32,1031.8 L1301.90,1032.8 L1302.46,1034.6 L1303.01,1037.7 L1303.56,1038.6 L1304.11,1040.8 L1304.66,1043.2 L1305.20,1046.2 L1305.72,1046.9 L1306.23,1049.4 L1306.72,1052.9 L1307.19,1054.2 L1307.50,1056.8 L1307.80,1059.6 L1308.08,1061.6 L1308.36,1064.0 L1308.62,1065.1 L1308.87,1068.9 L1309.12,1070.4 L1309.36,1073.7 L1309.60,1075.6 L1309.84,1078.9 L1310.08,1080.6 L1310.32,1082.7 L1310.56,1085.0 L1310.81,1088.1 L1311.06,1089.7 L1311.31,1092.3 L1311.56,1096.0 L1311.81,1097.8 L1312.06,1100.8 L1312.31,1102.0 L1312.55,1105.0 L1312.80,1107.5 L1313.04,1109.3 L1313.28,1112.0 L1313.51,1115.6 L1313.74,1117.6 L1313.96,1119.6 L1314.17,1122.1 L1314.38,1124.8 L1314.59,1127.5 L1314.80,1129.4 L1315.00,1130.9 L1315.20,1134.8 L1315.39,1136.0 L1315.57,1138.5 L1315.75,1140.7 L1315.92,1143.8 L1316.10,1146.2 L1316.27,1148.3 L1316.45,1150.7 L1316.62,1152.4 L1316.81,1156.0 L1316.98,1158.6 L1317.14,1161.2 L1317.30,1165.2 L1317.46,1168.4 L1317.62,1171.0 L1317.80,1173.5 L1317.99,1173.7 L1318.20,1175.5 L1318.44,1176.0 L1318.70,1175.3 L1318.99,1175.0 L1319.29,1173.6 L1319.61,1169.9 L1319.94,1167.9 L1320.28,1165.8 L1320.62,1162.6 L1320.96,1158.7 L1321.30,1155.1 L1321.62,1152.9 L1321.87,1151.0 L1322.11,1149.3 L1322.36,1146.0 L1322.60,1143.9 L1322.84,1142.9 L1323.09,1138.7 L1323.33,1137.4 L1323.58,1134.0 L1323.83,1132.7 L1324.07,1129.6 L1324.32,1128.0 L1324.57,1124.2 L1324.83,1122.9 L1325.08,1119.2 L1325.34,1116.3 L1325.60,1113.9 L1325.86,1111.5 L1326.12,1109.6 L1326.39,1108.2 L1326.66,1104.6 L1326.92,1102.7 L1327.18,1098.8 L1327.45,1097.1 L1327.71,1094.5 L1327.98,1091.1 L1328.25,1089.3 L1328.52,1086.5 L1328.80,1083.7 L1329.08,1082.1 L1329.37,1079.4 L1329.67,1076.0 L1329.97,1073.7 L1330.27,1071.4 L1330.59,1069.8 L1330.92,1068.5 L1331.25,1067.3 L1331.88,1064.7 L1332.55,1062.2 L1333.24,1058.9 L1333.93,1058.1 L1334.56,1056.0 L1335.12,1053.1 L1335.47,1051.9 L1335.74,1048.9 L1335.97,1045.5 L1336.16,1043.1 L1336.34,1040.3 L1336.53,1038.6 L1336.74,1036.2 L1337.01,1034.4 L1337.33,1030.9 L1337.75,1029.3 L1338.72,1029.0 L1339.84,1026.3 L1341.00,1024.6 L1341.84,1023.8 L1342.73,1020.0 L1343.64,1018.7 L1344.54,1016.5 L1345.40,1014.3 L1346.19,1013.8 L1346.90,1013.4 L1347.53,1016.2 L1348.13,1018.5 L1348.75,1021.2 L1349.44,1023.0 L1350.10,1024.1 L1350.79,1026.3 L1351.51,1029.1 L1352.25,1030.1 L1353.02,1032.2 L1353.81,1034.3 L1354.62,1036.9 L1355.60,1038.4 L1356.61,1039.9 L1357.65,1042.7 L1358.72,1043.3 L1359.81,1043.2 L1360.96,1043.6 L1362.17,1043.4 L1363.39,1041.3 L1364.56,1039.9 L1365.62,1038.6 L1366.51,1037.6 L1367.29,1034.8 L1367.99,1031.7 L1368.68,1030.1 L1369.40,1027.5 L1370.19,1026.1 L1371.53,1025.0 L1372.93,1022.7 L1374.06,1021.9 L1374.47,1019.9 L1374.65,1018.2 L1374.69,1016.1 L1374.69,1012.9 L1374.74,1010.7 L1374.94,1007.8 L1375.37,1005.9 L1376.16,1004.6 L1377.14,1003.1 L1378.24,1001.3 L1379.40,1001.2 L1380.56,1000.1 L1382.00,999.4 L1383.54,999.1 L1385.04,1000.6 L1386.37,1001.8 L1387.09,1003.3 L1387.68,1004.1 L1388.17,1006.3 L1388.61,1010.2 L1389.02,1012.2 L1389.42,1016.7 L1389.86,1019.1 L1390.35,1020.9 L1390.93,1022.9 L1391.62,1024.3 L1392.96,1023.3 L1394.47,1022.5 L1396.00,1021.8 L1397.44,1021.2 L1398.54,1021.8 L1399.58,1022.3 L1400.59,1024.2 L1401.59,1026.1 L1402.62,1027.3 L1403.69,1029.6 L1404.79,1030.6 L1405.88,1032.4 L1406.91,1033.0 L1407.81,1035.2 L1408.49,1036.2 L1409.04,1038.6 L1409.53,1040.7 L1409.99,1043.3 L1410.49,1045.8 L1411.06,1045.8 L1412.14,1044.3 L1413.28,1043.0 L1414.31,1040.1 L1414.74,1039.2 L1415.07,1036.9 L1415.33,1034.4 L1415.55,1032.6 L1415.74,1029.5 L1415.92,1025.4 L1416.13,1022.4 L1416.37,1020.9 L1416.68,1018.1 L1417.07,1015.9 L1417.56,1013.6 L1418.38,1010.3 L1419.35,1008.7 L1420.40,1007.1 L1421.46,1004.9 L1422.47,1002.7 L1423.38,1002.5 L1424.14,1004.6 L1424.84,1005.5 L1425.50,1006.9 L1426.12,1010.3 L1426.72,1013.2 L1427.31,1015.3 L1427.90,1016.8 L1428.47,1019.0 L1429.01,1019.7 L1429.53,1022.4 L1430.03,1025.2 L1430.50,1026.8 L1430.82,1028.4 L1431.11,1031.9 L1431.39,1033.9 L1431.66,1035.1 L1431.92,1037.7 L1432.16,1041.2 L1432.40,1044.5 L1432.63,1046.6 L1432.85,1049.6 L1433.07,1050.7 L1433.30,1054.0 L1433.52,1055.5 L1433.75,1057.9 L1434.03,1060.1 L1434.29,1063.1 L1434.54,1064.6 L1434.79,1067.9 L1435.06,1070.0 L1435.38,1072.5 L1435.75,1074.3 L1436.30,1075.8 L1436.94,1080.3 L1437.61,1082.5 L1438.29,1085.2 L1438.94,1085.2 L1439.49,1083.8 L1440.05,1083.1 L1440.60,1079.7 L1441.14,1078.2 L1441.67,1074.5 L1442.19,1072.4 L1442.62,1069.5 L1443.05,1066.9 L1443.47,1065.2 L1443.88,1062.9 L1444.28,1060.1 L1444.67,1057.4 L1445.06,1055.3 L1445.44,1053.5 L1445.81,1050.1 L1446.14,1047.5 L1446.45,1045.5 L1446.77,1043.3 L1447.13,1039.9 L1447.55,1038.0 L1448.06,1037.2 L1448.76,1034.2 L1449.56,1033.6 L1450.41,1031.3 L1451.23,1029.3 L1451.94,1028.1 L1452.38,1026.8 L1452.73,1024.1 L1453.02,1020.0 L1453.27,1018.1 L1453.50,1015.0 L1453.74,1011.8 L1454.01,1009.5 L1454.32,1007.0 L1454.71,1004.7 L1455.19,1004.7 L1456.43,1003.6 L1457.81,1005.0 L1458.93,1007.4 L1460.13,1009.1 L1461.29,1010.8 L1462.31,1011.9 L1463.07,1010.6 L1463.71,1008.6 L1464.30,1006.7 L1464.94,1003.4 L1465.55,1001.7 L1466.18,998.4 L1466.81,997.1 L1467.46,994.3 L1468.13,991.9 L1468.81,990.2 L1469.61,991.9 L1470.45,992.4 L1471.28,995.4 L1472.06,997.3 L1472.59,999.1 L1473.09,1001.7 L1473.56,1003.5 L1474.02,1007.3 L1474.47,1009.4 L1474.94,1011.9 L1475.42,1013.6 L1475.94,1013.2 L1476.72,1012.7 L1477.54,1010.7 L1478.37,1007.7 L1479.19,1007.0" stroke="#AE87E6" stroke-width="5.3"/></g><path d="M149.2,49 L149.2,1377.6 L2393.9,1377.6 L2393.9,1365.8" fill="none" stroke="#000" stroke-width="4.4" stroke-linejoin="round" stroke-linecap="round"/><line x1="180.6" y1="1377.6" x2="180.6" y2="1365.8" stroke="#000" stroke-width="4.3" stroke-linecap="round"/><line x1="428.6" y1="1377.6" x2="428.6" y2="1365.8" stroke="#000" stroke-width="4.3" stroke-linecap="round"/><line x1="672.0" y1="1377.6" x2="672.0" y2="1365.8" stroke="#000" stroke-width="4.3" stroke-linecap="round"/><line x1="920.3" y1="1377.6" x2="920.3" y2="1365.8" stroke="#000" stroke-width="4.3" stroke-linecap="round"/><line x1="1164.1" y1="1377.6" x2="1164.1" y2="1365.8" stroke="#000" stroke-width="4.3" stroke-linecap="round"/><line x1="1410.6" y1="1377.6" x2="1410.6" y2="1365.8" stroke="#000" stroke-width="4.3" stroke-linecap="round"/><line x1="1658.8" y1="1377.6" x2="1658.8" y2="1365.8" stroke="#000" stroke-width="4.3" stroke-linecap="round"/><line x1="1903.1" y1="1377.6" x2="1903.1" y2="1365.8" stroke="#000" stroke-width="4.3" stroke-linecap="round"/><line x1="2150.3" y1="1377.6" x2="2150.3" y2="1365.8" stroke="#000" stroke-width="4.3" stroke-linecap="round"/><g transform="translate(178.00,1454.5) scale(0.98,1.03)"><text font-size="50" text-anchor="middle" style="font-kerning:none">3950</text></g><g transform="translate(423.70,1454.5) scale(0.98,1.03)"><text font-size="50" text-anchor="middle" style="font-kerning:none">3550</text></g><g transform="translate(668.65,1454.5) scale(0.98,1.03)"><text font-size="50" text-anchor="middle" style="font-kerning:none">3150</text><rect x="-25.40" y="-4.64" width="9.41" height="6.94" fill="#fff"/><rect x="-10.07" y="-4.64" width="9.02" height="6.94" fill="#fff"/></g><g transform="translate(917.75,1454.5) scale(0.98,1.03)"><text font-size="50" text-anchor="middle" style="font-kerning:none">2750</text></g><g transform="translate(1163.05,1454.5) scale(0.98,1.03)"><text font-size="50" text-anchor="middle" style="font-kerning:none">2350</text></g><g transform="translate(1408.60,1454.5) scale(0.98,1.03)"><text font-size="50" text-anchor="middle" style="font-kerning:none">1950</text><rect x="-53.19" y="-4.64" width="9.41" height="6.94" fill="#fff"/><rect x="-37.86" y="-4.64" width="9.02" height="6.94" fill="#fff"/></g><g transform="translate(1654.30,1454.5) scale(0.98,1.03)"><text font-size="50" text-anchor="middle" style="font-kerning:none">1550</text><rect x="-53.19" y="-4.64" width="9.41" height="6.94" fill="#fff"/><rect x="-37.86" y="-4.64" width="9.02" height="6.94" fill="#fff"/></g><g transform="translate(1903.10,1454.5) scale(0.98,1.03)"><text font-size="50" text-anchor="middle" style="font-kerning:none">1150</text><rect x="-53.19" y="-4.64" width="9.41" height="6.94" fill="#fff"/><rect x="-37.86" y="-4.64" width="9.02" height="6.94" fill="#fff"/><rect x="-25.40" y="-4.64" width="9.41" height="6.94" fill="#fff"/><rect x="-10.07" y="-4.64" width="9.02" height="6.94" fill="#fff"/></g><g transform="translate(2148.80,1454.5) scale(0.98,1.03)"><text font-size="50" text-anchor="middle" style="font-kerning:none">750</text></g><g transform="translate(2393.40,1454.5) scale(0.98,1.03)"><text font-size="50" text-anchor="middle" style="font-kerning:none">350</text></g><text x="1020.5" y="1528.8" font-size="54" font-weight="bold">Wavenumber (cm<tspan font-size="36" dx="3" dy="-18.5">-1</tspan><tspan dx="0" dy="18.5">)</tspan></text><rect x="1484.48" y="1505.73" width="6.78" height="6.87" fill="#fff"/><rect x="1497.70" y="1505.73" width="6.33" height="6.87" fill="#fff"/><text transform="translate(75.8,752.9) rotate(-90)" x="0" y="0" font-size="53.8" font-weight="bold" text-anchor="middle">Transmission %</text><text x="170.2" y="121.3" font-size="54.2">MWCNT</text><text x="173.6" y="320" font-size="54">4-aminothiophenol</text><text x="158.7" y="652.3" font-size="54.2">Aniline HCl</text><text x="174.9" y="985.3" font-size="54.6">tPANI-MWCNT-Au@Pt</text><text x="302.7" y="522.6" font-size="49.7">N-H<tspan font-size="31" dy="10">2</tspan><tspan dy="-10"></tspan></text><text x="592.4" y="570.3" font-size="49.7">C-H</text><text x="709" y="522.8" font-size="49.7">C-SH</text><text x="1253" y="628.8" font-size="49.7">Aromatic ring</text><text x="395.3" y="869.8" font-size="49.7">N-H<tspan font-size="31" dy="10">2</tspan><tspan dy="-10"></tspan> (amine salt)</text><text x="1148.3" y="910.4" font-size="49.7">C-H</text><text x="1302" y="906.2" font-size="49.7">Aromatic ring</text><text x="212.5" y="1138.8" font-size="49.7">N-H (amide)</text><text x="1238.2" y="1314.2" font-size="49.7">Aromatic ring</text><text x="1892.5" y="1327.3" font-size="49.7">N-H (C-N=)</text><line x1="420.3" y1="505.6" x2="476.8" y2="474.2" stroke="#000" stroke-width="3.2"/><polygon points="496.9,463.0 481.1,486.1 469.0,464.2" fill="#000"/><line x1="611.8" y1="522.6" x2="586.6" y2="486.1" stroke="#000" stroke-width="3.2"/><polygon points="573.5,467.2 598.0,480.7 577.4,494.9" fill="#000"/><line x1="707.2" y1="483.1" x2="681.8" y2="449.8" stroke="#000" stroke-width="3.2"/><polygon points="667.9,431.5 693.0,443.8 673.1,459.0" fill="#000"/><line x1="1548.0" y1="612.2" x2="1605.0" y2="578.2" stroke="#000" stroke-width="3.2"/><polygon points="1624.7,566.4 1609.6,589.9 1596.8,568.5" fill="#000"/><line x1="1548.0" y1="612.2" x2="1674.4" y2="607.6" stroke="#000" stroke-width="3.2"/><polygon points="1697.4,606.8 1672.9,620.2 1672.0,595.2" fill="#000"/><line x1="770.4" y1="862.6" x2="837.7" y2="866.5" stroke="#000" stroke-width="3.2"/><polygon points="860.7,867.8 835.0,878.8 836.5,853.9" fill="#000"/><line x1="1134.8" y1="890.4" x2="1065.6" y2="890.4" stroke="#000" stroke-width="3.2"/><polygon points="1042.6,890.4 1067.6,877.9 1067.6,902.9" fill="#000"/><line x1="1597.9" y1="892.5" x2="1638.1" y2="787.0" stroke="#000" stroke-width="3.2"/><polygon points="1646.3,765.5 1649.1,793.3 1625.7,784.4" fill="#000"/><line x1="1597.9" y1="892.5" x2="1659.9" y2="875.0" stroke="#000" stroke-width="3.2"/><polygon points="1682.0,868.7 1661.3,887.5 1654.5,863.5" fill="#000"/><line x1="497.6" y1="1119.4" x2="554.7" y2="1087.7" stroke="#000" stroke-width="3.2"/><polygon points="574.8,1076.5 559.0,1099.6 546.9,1077.7" fill="#000"/><line x1="1530.4" y1="1296.6" x2="1611.8" y2="1234.7" stroke="#000" stroke-width="3.2"/><polygon points="1630.1,1220.8 1617.8,1245.9 1602.6,1226.0" fill="#000"/><line x1="1530.4" y1="1296.6" x2="1661.1" y2="1298.3" stroke="#000" stroke-width="3.2"/><polygon points="1684.1,1298.6 1658.9,1310.8 1659.3,1285.8" fill="#000"/><line x1="1886.1" y1="1288.7" x2="1833.4" y2="1259.1" stroke="#000" stroke-width="3.2"/><polygon points="1813.3,1247.9 1841.2,1249.2 1829.0,1271.0" fill="#000"/></svg>
</body></html>
